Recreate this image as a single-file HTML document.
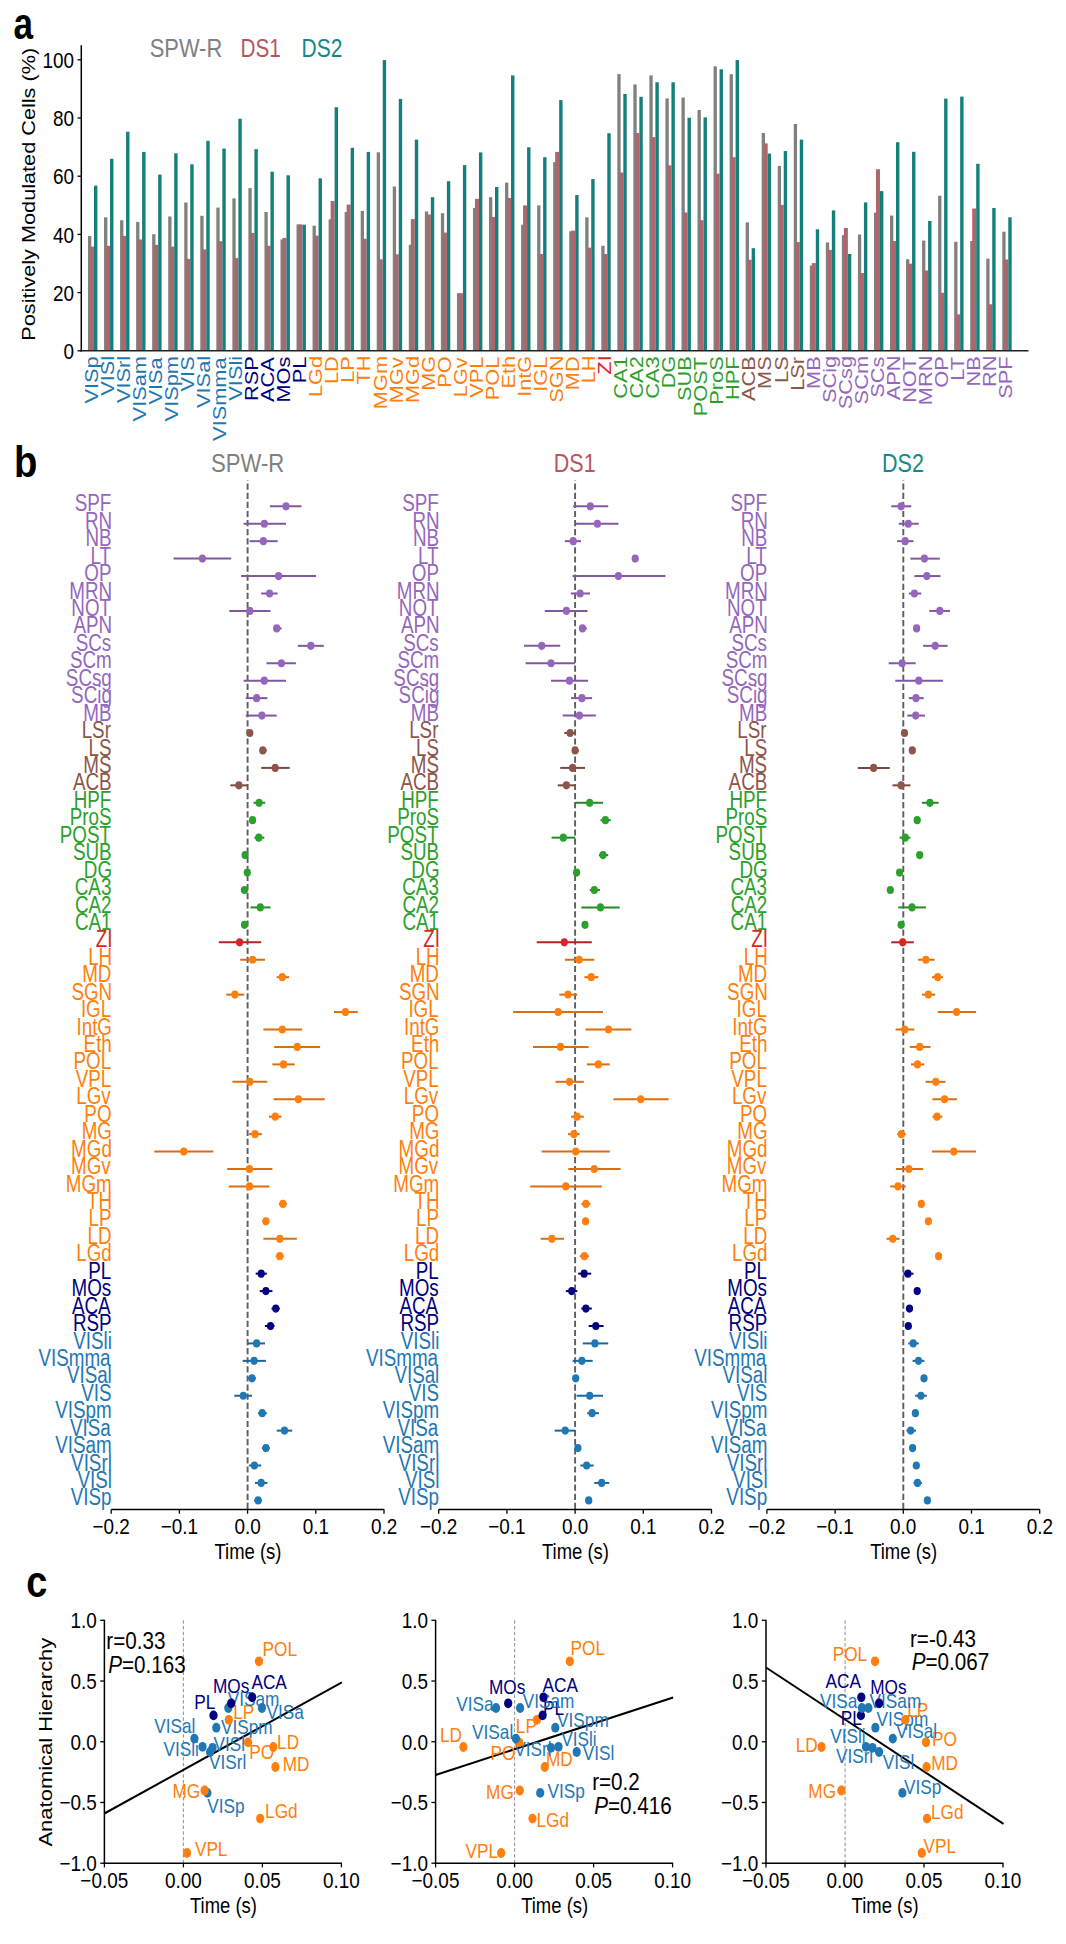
<!DOCTYPE html>
<html><head><meta charset="utf-8"><style>
html,body{margin:0;padding:0;background:#fff;}
svg{display:block;}
</style></head><body>
<svg width="1066" height="1944" viewBox="0 0 1066 1944" font-family="Liberation Sans, sans-serif">
<rect width="1066" height="1944" fill="#fff"/>
<rect x="88.00" y="235.90" width="3.30" height="114.90" fill="#827f7f"/>
<rect x="90.00" y="246.60" width="4.00" height="104.20" fill="#ad666c"/>
<rect x="94.00" y="185.70" width="3.40" height="165.10" fill="#14807c"/>
<rect x="104.04" y="217.30" width="3.30" height="133.50" fill="#827f7f"/>
<rect x="106.04" y="245.80" width="4.00" height="105.00" fill="#ad666c"/>
<rect x="110.04" y="158.80" width="3.40" height="192.00" fill="#14807c"/>
<rect x="120.08" y="220.20" width="3.30" height="130.60" fill="#827f7f"/>
<rect x="122.08" y="235.90" width="4.00" height="114.90" fill="#ad666c"/>
<rect x="126.08" y="131.70" width="3.40" height="219.10" fill="#14807c"/>
<rect x="136.12" y="221.90" width="3.30" height="128.90" fill="#827f7f"/>
<rect x="138.12" y="239.50" width="4.00" height="111.30" fill="#ad666c"/>
<rect x="142.12" y="151.90" width="3.40" height="198.90" fill="#14807c"/>
<rect x="152.16" y="234.20" width="3.30" height="116.60" fill="#827f7f"/>
<rect x="154.16" y="244.90" width="4.00" height="105.90" fill="#ad666c"/>
<rect x="158.16" y="174.60" width="3.40" height="176.20" fill="#14807c"/>
<rect x="168.20" y="216.50" width="3.30" height="134.30" fill="#827f7f"/>
<rect x="170.20" y="246.60" width="4.00" height="104.20" fill="#ad666c"/>
<rect x="174.20" y="153.30" width="3.40" height="197.50" fill="#14807c"/>
<rect x="184.24" y="202.50" width="3.30" height="148.30" fill="#827f7f"/>
<rect x="186.24" y="258.90" width="4.00" height="91.90" fill="#ad666c"/>
<rect x="190.24" y="164.30" width="3.40" height="186.50" fill="#14807c"/>
<rect x="200.28" y="215.80" width="3.30" height="135.00" fill="#827f7f"/>
<rect x="202.28" y="249.40" width="4.00" height="101.40" fill="#ad666c"/>
<rect x="206.28" y="140.90" width="3.40" height="209.90" fill="#14807c"/>
<rect x="216.32" y="207.60" width="3.30" height="143.20" fill="#827f7f"/>
<rect x="218.32" y="241.20" width="4.00" height="109.60" fill="#ad666c"/>
<rect x="222.32" y="148.60" width="3.40" height="202.20" fill="#14807c"/>
<rect x="232.36" y="198.40" width="3.30" height="152.40" fill="#827f7f"/>
<rect x="234.36" y="258.10" width="4.00" height="92.70" fill="#ad666c"/>
<rect x="238.36" y="118.70" width="3.40" height="232.10" fill="#14807c"/>
<rect x="248.40" y="188.10" width="3.30" height="162.70" fill="#827f7f"/>
<rect x="250.40" y="232.90" width="4.00" height="117.90" fill="#ad666c"/>
<rect x="254.40" y="149.10" width="3.40" height="201.70" fill="#14807c"/>
<rect x="264.44" y="212.00" width="3.30" height="138.80" fill="#827f7f"/>
<rect x="266.44" y="245.80" width="4.00" height="105.00" fill="#ad666c"/>
<rect x="270.44" y="171.70" width="3.40" height="179.10" fill="#14807c"/>
<rect x="280.48" y="239.50" width="3.30" height="111.30" fill="#827f7f"/>
<rect x="282.48" y="237.90" width="4.00" height="112.90" fill="#ad666c"/>
<rect x="286.48" y="175.30" width="3.40" height="175.50" fill="#14807c"/>
<rect x="296.52" y="224.40" width="3.30" height="126.40" fill="#827f7f"/>
<rect x="298.52" y="224.40" width="4.00" height="126.40" fill="#ad666c"/>
<rect x="302.52" y="224.70" width="3.40" height="126.10" fill="#14807c"/>
<rect x="312.56" y="225.70" width="3.30" height="125.10" fill="#827f7f"/>
<rect x="314.56" y="235.60" width="4.00" height="115.20" fill="#ad666c"/>
<rect x="318.56" y="178.30" width="3.40" height="172.50" fill="#14807c"/>
<rect x="328.60" y="219.40" width="3.30" height="131.40" fill="#827f7f"/>
<rect x="330.60" y="201.00" width="4.00" height="149.80" fill="#ad666c"/>
<rect x="334.60" y="107.20" width="3.40" height="243.60" fill="#14807c"/>
<rect x="344.64" y="212.00" width="3.30" height="138.80" fill="#827f7f"/>
<rect x="346.64" y="204.60" width="4.00" height="146.20" fill="#ad666c"/>
<rect x="350.64" y="147.80" width="3.40" height="203.00" fill="#14807c"/>
<rect x="360.68" y="210.90" width="3.30" height="139.90" fill="#827f7f"/>
<rect x="362.68" y="238.80" width="4.00" height="112.00" fill="#ad666c"/>
<rect x="366.68" y="151.90" width="3.40" height="198.90" fill="#14807c"/>
<rect x="376.72" y="152.30" width="3.30" height="198.50" fill="#827f7f"/>
<rect x="378.72" y="259.30" width="4.00" height="91.50" fill="#ad666c"/>
<rect x="382.72" y="60.10" width="3.40" height="290.70" fill="#14807c"/>
<rect x="392.76" y="186.50" width="3.30" height="164.30" fill="#827f7f"/>
<rect x="394.76" y="254.30" width="4.00" height="96.50" fill="#ad666c"/>
<rect x="398.76" y="98.90" width="3.40" height="251.90" fill="#14807c"/>
<rect x="408.80" y="244.90" width="3.30" height="105.90" fill="#827f7f"/>
<rect x="410.80" y="219.10" width="4.00" height="131.70" fill="#ad666c"/>
<rect x="414.80" y="139.60" width="3.40" height="211.20" fill="#14807c"/>
<rect x="424.84" y="211.50" width="3.30" height="139.30" fill="#827f7f"/>
<rect x="426.84" y="214.50" width="4.00" height="136.30" fill="#ad666c"/>
<rect x="430.84" y="197.20" width="3.40" height="153.60" fill="#14807c"/>
<rect x="440.88" y="213.20" width="3.30" height="137.60" fill="#827f7f"/>
<rect x="442.88" y="232.60" width="4.00" height="118.20" fill="#ad666c"/>
<rect x="446.88" y="181.20" width="3.40" height="169.60" fill="#14807c"/>
<rect x="456.92" y="293.20" width="3.30" height="57.60" fill="#827f7f"/>
<rect x="458.92" y="293.20" width="4.00" height="57.60" fill="#ad666c"/>
<rect x="462.92" y="165.10" width="3.40" height="185.70" fill="#14807c"/>
<rect x="472.96" y="207.90" width="3.30" height="142.90" fill="#827f7f"/>
<rect x="474.96" y="198.80" width="4.00" height="152.00" fill="#ad666c"/>
<rect x="478.96" y="152.40" width="3.40" height="198.40" fill="#14807c"/>
<rect x="489.00" y="197.20" width="3.30" height="153.60" fill="#827f7f"/>
<rect x="491.00" y="217.00" width="4.00" height="133.80" fill="#ad666c"/>
<rect x="495.00" y="187.00" width="3.40" height="163.80" fill="#14807c"/>
<rect x="505.04" y="182.60" width="3.30" height="168.20" fill="#827f7f"/>
<rect x="507.04" y="198.00" width="4.00" height="152.80" fill="#ad666c"/>
<rect x="511.04" y="75.40" width="3.40" height="275.40" fill="#14807c"/>
<rect x="521.08" y="224.70" width="3.30" height="126.10" fill="#827f7f"/>
<rect x="523.08" y="205.40" width="4.00" height="145.40" fill="#ad666c"/>
<rect x="527.08" y="147.30" width="3.40" height="203.50" fill="#14807c"/>
<rect x="537.12" y="205.40" width="3.30" height="145.40" fill="#827f7f"/>
<rect x="539.12" y="254.00" width="4.00" height="96.80" fill="#ad666c"/>
<rect x="543.12" y="157.20" width="3.40" height="193.60" fill="#14807c"/>
<rect x="553.16" y="162.10" width="3.30" height="188.70" fill="#827f7f"/>
<rect x="555.16" y="151.90" width="4.00" height="198.90" fill="#ad666c"/>
<rect x="559.16" y="100.10" width="3.40" height="250.70" fill="#14807c"/>
<rect x="569.20" y="231.30" width="3.30" height="119.50" fill="#827f7f"/>
<rect x="571.20" y="230.60" width="4.00" height="120.20" fill="#ad666c"/>
<rect x="575.20" y="195.10" width="3.40" height="155.70" fill="#14807c"/>
<rect x="585.24" y="217.30" width="3.30" height="133.50" fill="#827f7f"/>
<rect x="587.24" y="247.70" width="4.00" height="103.10" fill="#ad666c"/>
<rect x="591.24" y="179.10" width="3.40" height="171.70" fill="#14807c"/>
<rect x="601.28" y="245.80" width="3.30" height="105.00" fill="#827f7f"/>
<rect x="603.28" y="254.00" width="4.00" height="96.80" fill="#ad666c"/>
<rect x="607.28" y="133.20" width="3.40" height="217.60" fill="#14807c"/>
<rect x="617.32" y="74.10" width="3.30" height="276.70" fill="#827f7f"/>
<rect x="619.32" y="172.50" width="4.00" height="178.30" fill="#ad666c"/>
<rect x="623.32" y="94.00" width="3.40" height="256.80" fill="#14807c"/>
<rect x="633.36" y="84.40" width="3.30" height="266.40" fill="#827f7f"/>
<rect x="635.36" y="133.00" width="4.00" height="217.80" fill="#ad666c"/>
<rect x="639.36" y="96.80" width="3.40" height="254.00" fill="#14807c"/>
<rect x="649.40" y="75.40" width="3.30" height="275.40" fill="#827f7f"/>
<rect x="651.40" y="137.10" width="4.00" height="213.70" fill="#ad666c"/>
<rect x="655.40" y="82.30" width="3.40" height="268.50" fill="#14807c"/>
<rect x="665.44" y="98.40" width="3.30" height="252.40" fill="#827f7f"/>
<rect x="667.44" y="165.40" width="4.00" height="185.40" fill="#ad666c"/>
<rect x="671.44" y="82.30" width="3.40" height="268.50" fill="#14807c"/>
<rect x="681.48" y="97.60" width="3.30" height="253.20" fill="#827f7f"/>
<rect x="683.48" y="212.50" width="4.00" height="138.30" fill="#ad666c"/>
<rect x="687.48" y="117.70" width="3.40" height="233.10" fill="#14807c"/>
<rect x="697.52" y="110.00" width="3.30" height="240.80" fill="#827f7f"/>
<rect x="699.52" y="220.20" width="4.00" height="130.60" fill="#ad666c"/>
<rect x="703.52" y="117.40" width="3.40" height="233.40" fill="#14807c"/>
<rect x="713.56" y="66.30" width="3.30" height="284.50" fill="#827f7f"/>
<rect x="715.56" y="173.70" width="4.00" height="177.10" fill="#ad666c"/>
<rect x="719.56" y="69.30" width="3.40" height="281.50" fill="#14807c"/>
<rect x="729.60" y="74.20" width="3.30" height="276.60" fill="#827f7f"/>
<rect x="731.60" y="157.20" width="4.00" height="193.60" fill="#ad666c"/>
<rect x="735.60" y="60.10" width="3.40" height="290.70" fill="#14807c"/>
<rect x="745.64" y="222.40" width="3.30" height="128.40" fill="#827f7f"/>
<rect x="747.64" y="259.80" width="4.00" height="91.00" fill="#ad666c"/>
<rect x="751.64" y="248.20" width="3.40" height="102.60" fill="#14807c"/>
<rect x="761.68" y="133.00" width="3.30" height="217.80" fill="#827f7f"/>
<rect x="763.68" y="143.40" width="4.00" height="207.40" fill="#ad666c"/>
<rect x="767.68" y="153.60" width="3.40" height="197.20" fill="#14807c"/>
<rect x="777.72" y="165.90" width="3.30" height="184.90" fill="#827f7f"/>
<rect x="779.72" y="204.90" width="4.00" height="145.90" fill="#ad666c"/>
<rect x="783.72" y="151.10" width="3.40" height="199.70" fill="#14807c"/>
<rect x="793.76" y="124.00" width="3.30" height="226.80" fill="#827f7f"/>
<rect x="795.76" y="242.10" width="4.00" height="108.70" fill="#ad666c"/>
<rect x="799.76" y="139.60" width="3.40" height="211.20" fill="#14807c"/>
<rect x="809.80" y="265.50" width="3.30" height="85.30" fill="#827f7f"/>
<rect x="811.80" y="263.10" width="4.00" height="87.70" fill="#ad666c"/>
<rect x="815.80" y="229.30" width="3.40" height="121.50" fill="#14807c"/>
<rect x="825.84" y="242.50" width="3.30" height="108.30" fill="#827f7f"/>
<rect x="827.84" y="249.90" width="4.00" height="100.90" fill="#ad666c"/>
<rect x="831.84" y="210.40" width="3.40" height="140.40" fill="#14807c"/>
<rect x="841.88" y="235.10" width="3.30" height="115.70" fill="#827f7f"/>
<rect x="843.88" y="228.00" width="4.00" height="122.80" fill="#ad666c"/>
<rect x="847.88" y="254.00" width="3.40" height="96.80" fill="#14807c"/>
<rect x="857.92" y="234.50" width="3.30" height="116.30" fill="#827f7f"/>
<rect x="859.92" y="273.00" width="4.00" height="77.80" fill="#ad666c"/>
<rect x="863.92" y="202.40" width="3.40" height="148.40" fill="#14807c"/>
<rect x="873.96" y="212.60" width="3.30" height="138.20" fill="#827f7f"/>
<rect x="875.96" y="169.20" width="4.00" height="181.60" fill="#ad666c"/>
<rect x="879.96" y="191.10" width="3.40" height="159.70" fill="#14807c"/>
<rect x="890.00" y="215.60" width="3.30" height="135.20" fill="#827f7f"/>
<rect x="892.00" y="241.00" width="4.00" height="109.80" fill="#ad666c"/>
<rect x="896.00" y="142.20" width="3.40" height="208.60" fill="#14807c"/>
<rect x="906.04" y="259.20" width="3.30" height="91.60" fill="#827f7f"/>
<rect x="908.04" y="263.70" width="4.00" height="87.10" fill="#ad666c"/>
<rect x="912.04" y="151.80" width="3.40" height="199.00" fill="#14807c"/>
<rect x="922.08" y="240.60" width="3.30" height="110.20" fill="#827f7f"/>
<rect x="924.08" y="270.50" width="4.00" height="80.30" fill="#ad666c"/>
<rect x="928.08" y="221.00" width="3.40" height="129.80" fill="#14807c"/>
<rect x="938.12" y="195.70" width="3.30" height="155.10" fill="#827f7f"/>
<rect x="940.12" y="292.80" width="4.00" height="58.00" fill="#ad666c"/>
<rect x="944.12" y="98.60" width="3.40" height="252.20" fill="#14807c"/>
<rect x="954.16" y="241.80" width="3.30" height="109.00" fill="#827f7f"/>
<rect x="956.16" y="314.40" width="4.00" height="36.40" fill="#ad666c"/>
<rect x="960.16" y="96.60" width="3.40" height="254.20" fill="#14807c"/>
<rect x="970.20" y="241.00" width="3.30" height="109.80" fill="#827f7f"/>
<rect x="972.20" y="208.50" width="4.00" height="142.30" fill="#ad666c"/>
<rect x="976.20" y="163.80" width="3.40" height="187.00" fill="#14807c"/>
<rect x="986.24" y="258.70" width="3.30" height="92.10" fill="#827f7f"/>
<rect x="988.24" y="304.30" width="4.00" height="46.50" fill="#ad666c"/>
<rect x="992.24" y="208.00" width="3.40" height="142.80" fill="#14807c"/>
<rect x="1002.28" y="231.70" width="3.30" height="119.10" fill="#827f7f"/>
<rect x="1004.28" y="259.50" width="4.00" height="91.30" fill="#ad666c"/>
<rect x="1008.28" y="217.30" width="3.40" height="133.50" fill="#14807c"/>
<line x1="81.30" y1="45.20" x2="81.30" y2="351.55" stroke="#000" stroke-width="1.5"/>
<line x1="80.55" y1="350.80" x2="1028.50" y2="350.80" stroke="#222" stroke-width="1.6"/>
<line x1="77.50" y1="350.80" x2="81.30" y2="350.80" stroke="#000" stroke-width="1.3"/>
<text transform="translate(63.46,358.90) scale(0.86,1)" font-size="22" fill="#000">0</text>
<line x1="77.50" y1="292.60" x2="81.30" y2="292.60" stroke="#000" stroke-width="1.3"/>
<text transform="translate(52.96,300.70) scale(0.86,1)" font-size="22" fill="#000">20</text>
<line x1="77.50" y1="234.40" x2="81.30" y2="234.40" stroke="#000" stroke-width="1.3"/>
<text transform="translate(52.96,242.50) scale(0.86,1)" font-size="22" fill="#000">40</text>
<line x1="77.50" y1="176.20" x2="81.30" y2="176.20" stroke="#000" stroke-width="1.3"/>
<text transform="translate(52.96,184.30) scale(0.86,1)" font-size="22" fill="#000">60</text>
<line x1="77.50" y1="118.00" x2="81.30" y2="118.00" stroke="#000" stroke-width="1.3"/>
<text transform="translate(52.96,126.10) scale(0.86,1)" font-size="22" fill="#000">80</text>
<line x1="77.50" y1="59.80" x2="81.30" y2="59.80" stroke="#000" stroke-width="1.3"/>
<text transform="translate(42.46,67.90) scale(0.86,1)" font-size="22" fill="#000">100</text>
<text transform="translate(149.72,57.00) scale(0.875,1)" font-size="25" fill="#808080">SPW-R</text>
<text transform="translate(240.54,57.00) scale(0.83,1)" font-size="25" fill="#b85560">DS1</text>
<text transform="translate(301.52,57.00) scale(0.84,1)" font-size="25" fill="#138a86">DS2</text>
<text transform="translate(34.80,340.69) scale(0.87,1) rotate(-90)" font-size="21.7" fill="#000">Positively Modulated Cells (%)</text>
<text transform="translate(97.80,403.62) scale(0.85,1) rotate(-90)" font-size="21.8" fill="#1f77b4">VISp</text>
<text transform="translate(113.84,395.78) scale(0.85,1) rotate(-90)" font-size="21.8" fill="#1f77b4">VISl</text>
<text transform="translate(129.88,403.08) scale(0.85,1) rotate(-90)" font-size="21.8" fill="#1f77b4">VISrl</text>
<text transform="translate(145.92,421.39) scale(0.85,1) rotate(-90)" font-size="21.8" fill="#1f77b4">VISam</text>
<text transform="translate(161.96,404.50) scale(0.85,1) rotate(-90)" font-size="21.8" fill="#1f77b4">VISa</text>
<text transform="translate(178.00,421.39) scale(0.85,1) rotate(-90)" font-size="21.8" fill="#1f77b4">VISpm</text>
<text transform="translate(194.04,391.42) scale(0.85,1) rotate(-90)" font-size="21.8" fill="#1f77b4">VIS</text>
<text transform="translate(210.08,407.99) scale(0.85,1) rotate(-90)" font-size="21.8" fill="#1f77b4">VISal</text>
<text transform="translate(226.12,440.90) scale(0.85,1) rotate(-90)" font-size="21.8" fill="#1f77b4">VISmma</text>
<text transform="translate(242.16,400.68) scale(0.85,1) rotate(-90)" font-size="21.8" fill="#1f77b4">VISli</text>
<text transform="translate(258.20,401.01) scale(0.85,1) rotate(-90)" font-size="21.8" fill="#000080">RSP</text>
<text transform="translate(274.24,402.10) scale(0.85,1) rotate(-90)" font-size="21.8" fill="#000080">ACA</text>
<text transform="translate(290.28,402.54) scale(0.85,1) rotate(-90)" font-size="21.8" fill="#000080">MOs</text>
<text transform="translate(306.32,383.24) scale(0.85,1) rotate(-90)" font-size="21.8" fill="#000080">PL</text>
<text transform="translate(322.36,397.09) scale(0.85,1) rotate(-90)" font-size="21.8" fill="#ff7f0e">LGd</text>
<text transform="translate(338.40,384.11) scale(0.85,1) rotate(-90)" font-size="21.8" fill="#ff7f0e">LD</text>
<text transform="translate(354.44,382.81) scale(0.85,1) rotate(-90)" font-size="21.8" fill="#ff7f0e">LP</text>
<text transform="translate(370.48,384.55) scale(0.85,1) rotate(-90)" font-size="21.8" fill="#ff7f0e">TH</text>
<text transform="translate(386.52,409.18) scale(0.85,1) rotate(-90)" font-size="21.8" fill="#ff7f0e">MGm</text>
<text transform="translate(402.56,403.19) scale(0.85,1) rotate(-90)" font-size="21.8" fill="#ff7f0e">MGv</text>
<text transform="translate(418.60,403.08) scale(0.85,1) rotate(-90)" font-size="21.8" fill="#ff7f0e">MGd</text>
<text transform="translate(434.64,390.87) scale(0.85,1) rotate(-90)" font-size="21.8" fill="#ff7f0e">MG</text>
<text transform="translate(450.68,387.71) scale(0.85,1) rotate(-90)" font-size="21.8" fill="#ff7f0e">PO</text>
<text transform="translate(466.72,397.19) scale(0.85,1) rotate(-90)" font-size="21.8" fill="#ff7f0e">LGv</text>
<text transform="translate(482.76,397.85) scale(0.85,1) rotate(-90)" font-size="21.8" fill="#ff7f0e">VPL</text>
<text transform="translate(498.80,400.25) scale(0.85,1) rotate(-90)" font-size="21.8" fill="#ff7f0e">POL</text>
<text transform="translate(514.84,388.58) scale(0.85,1) rotate(-90)" font-size="21.8" fill="#ff7f0e">Eth</text>
<text transform="translate(530.88,396.87) scale(0.85,1) rotate(-90)" font-size="21.8" fill="#ff7f0e">IntG</text>
<text transform="translate(546.92,391.74) scale(0.85,1) rotate(-90)" font-size="21.8" fill="#ff7f0e">IGL</text>
<text transform="translate(562.96,402.75) scale(0.85,1) rotate(-90)" font-size="21.8" fill="#ff7f0e">SGN</text>
<text transform="translate(579.00,390.22) scale(0.85,1) rotate(-90)" font-size="21.8" fill="#ff7f0e">MD</text>
<text transform="translate(595.04,383.35) scale(0.85,1) rotate(-90)" font-size="21.8" fill="#ff7f0e">LH</text>
<text transform="translate(611.08,374.63) scale(0.85,1) rotate(-90)" font-size="21.8" fill="#d62728">ZI</text>
<text transform="translate(627.12,398.72) scale(0.85,1) rotate(-90)" font-size="21.8" fill="#2ca02c">CA1</text>
<text transform="translate(643.16,398.61) scale(0.85,1) rotate(-90)" font-size="21.8" fill="#2ca02c">CA2</text>
<text transform="translate(659.20,398.83) scale(0.85,1) rotate(-90)" font-size="21.8" fill="#2ca02c">CA3</text>
<text transform="translate(675.24,388.37) scale(0.85,1) rotate(-90)" font-size="21.8" fill="#2ca02c">DG</text>
<text transform="translate(691.28,401.01) scale(0.85,1) rotate(-90)" font-size="21.8" fill="#2ca02c">SUB</text>
<text transform="translate(707.32,416.16) scale(0.85,1) rotate(-90)" font-size="21.8" fill="#2ca02c">POST</text>
<text transform="translate(723.36,404.72) scale(0.85,1) rotate(-90)" font-size="21.8" fill="#2ca02c">ProS</text>
<text transform="translate(739.40,400.03) scale(0.85,1) rotate(-90)" font-size="21.8" fill="#2ca02c">HPF</text>
<text transform="translate(755.44,401.01) scale(0.85,1) rotate(-90)" font-size="21.8" fill="#8c564b">ACB</text>
<text transform="translate(771.48,389.02) scale(0.85,1) rotate(-90)" font-size="21.8" fill="#8c564b">MS</text>
<text transform="translate(787.52,382.92) scale(0.85,1) rotate(-90)" font-size="21.8" fill="#8c564b">LS</text>
<text transform="translate(803.56,390.87) scale(0.85,1) rotate(-90)" font-size="21.8" fill="#8c564b">LSr</text>
<text transform="translate(819.60,388.91) scale(0.85,1) rotate(-90)" font-size="21.8" fill="#9467bd">MB</text>
<text transform="translate(835.64,403.08) scale(0.85,1) rotate(-90)" font-size="21.8" fill="#9467bd">SCig</text>
<text transform="translate(851.68,409.18) scale(0.85,1) rotate(-90)" font-size="21.8" fill="#9467bd">SCsg</text>
<text transform="translate(867.72,404.39) scale(0.85,1) rotate(-90)" font-size="21.8" fill="#9467bd">SCm</text>
<text transform="translate(883.76,397.74) scale(0.85,1) rotate(-90)" font-size="21.8" fill="#9467bd">SCs</text>
<text transform="translate(899.80,400.36) scale(0.85,1) rotate(-90)" font-size="21.8" fill="#9467bd">APN</text>
<text transform="translate(915.84,402.86) scale(0.85,1) rotate(-90)" font-size="21.8" fill="#9467bd">NOT</text>
<text transform="translate(931.88,405.15) scale(0.85,1) rotate(-90)" font-size="21.8" fill="#9467bd">MRN</text>
<text transform="translate(947.92,387.71) scale(0.85,1) rotate(-90)" font-size="21.8" fill="#9467bd">OP</text>
<text transform="translate(963.96,380.63) scale(0.85,1) rotate(-90)" font-size="21.8" fill="#9467bd">LT</text>
<text transform="translate(980.00,386.40) scale(0.85,1) rotate(-90)" font-size="21.8" fill="#9467bd">NB</text>
<text transform="translate(996.04,386.95) scale(0.85,1) rotate(-90)" font-size="21.8" fill="#9467bd">RN</text>
<text transform="translate(1012.08,398.83) scale(0.85,1) rotate(-90)" font-size="21.8" fill="#9467bd">SPF</text>
<text transform="translate(13.55,38.60) scale(0.78,1)" font-size="45" fill="#000" font-weight="700">a</text>
<line x1="247.60" y1="480.20" x2="247.60" y2="1509.50" stroke="#5e5e5e" stroke-width="1.9" stroke-dasharray="6.2 2.9" stroke-dashoffset="5.7"/>
<line x1="111.20" y1="1509.50" x2="384.20" y2="1509.50" stroke="#000" stroke-width="1.5"/>
<line x1="111.20" y1="1509.50" x2="111.20" y2="1513.70" stroke="#000" stroke-width="1.3"/>
<text transform="translate(92.52,1534.10) scale(0.86,1)" font-size="22" fill="#000">−0.2</text>
<line x1="179.40" y1="1509.50" x2="179.40" y2="1513.70" stroke="#000" stroke-width="1.3"/>
<text transform="translate(160.67,1534.10) scale(0.86,1)" font-size="22" fill="#000">−0.1</text>
<line x1="247.60" y1="1509.50" x2="247.60" y2="1513.70" stroke="#000" stroke-width="1.3"/>
<text transform="translate(234.40,1534.10) scale(0.86,1)" font-size="22" fill="#000">0.0</text>
<line x1="315.80" y1="1509.50" x2="315.80" y2="1513.70" stroke="#000" stroke-width="1.3"/>
<text transform="translate(302.70,1534.10) scale(0.86,1)" font-size="22" fill="#000">0.1</text>
<line x1="384.00" y1="1509.50" x2="384.00" y2="1513.70" stroke="#000" stroke-width="1.3"/>
<text transform="translate(370.95,1534.10) scale(0.86,1)" font-size="22" fill="#000">0.2</text>
<text transform="translate(214.47,1558.80) scale(0.84,1)" font-size="22" fill="#000">Time (s)</text>
<text transform="translate(210.93,472.30) scale(0.885,1)" font-size="25" fill="#808080">SPW-R</text>
<line x1="269.90" y1="506.30" x2="301.50" y2="506.30" stroke="#7f58a2" stroke-width="2.0"/>
<ellipse cx="286.00" cy="506.30" rx="3.60" ry="4.10" fill="#9467bd"/>
<text transform="translate(74.79,511.40) scale(0.8,1)" font-size="23.5" fill="#9467bd">SPF</text>
<line x1="243.60" y1="523.74" x2="286.00" y2="523.74" stroke="#7f58a2" stroke-width="2.0"/>
<ellipse cx="264.30" cy="523.74" rx="3.60" ry="4.10" fill="#9467bd"/>
<text transform="translate(85.03,528.84) scale(0.8,1)" font-size="23.5" fill="#9467bd">RN</text>
<line x1="249.50" y1="541.18" x2="277.60" y2="541.18" stroke="#7f58a2" stroke-width="2.0"/>
<ellipse cx="263.40" cy="541.18" rx="3.60" ry="4.10" fill="#9467bd"/>
<text transform="translate(85.50,546.28) scale(0.8,1)" font-size="23.5" fill="#9467bd">NB</text>
<line x1="173.60" y1="558.62" x2="231.20" y2="558.62" stroke="#7f58a2" stroke-width="2.0"/>
<ellipse cx="202.40" cy="558.62" rx="3.60" ry="4.10" fill="#9467bd"/>
<text transform="translate(90.48,563.72) scale(0.8,1)" font-size="23.5" fill="#9467bd">LT</text>
<line x1="241.10" y1="576.06" x2="316.00" y2="576.06" stroke="#7f58a2" stroke-width="2.0"/>
<ellipse cx="278.60" cy="576.06" rx="3.60" ry="4.10" fill="#9467bd"/>
<text transform="translate(84.37,581.16) scale(0.8,1)" font-size="23.5" fill="#9467bd">OP</text>
<line x1="261.20" y1="593.50" x2="277.60" y2="593.50" stroke="#7f58a2" stroke-width="2.0"/>
<ellipse cx="269.60" cy="593.50" rx="3.60" ry="4.10" fill="#9467bd"/>
<text transform="translate(69.33,598.60) scale(0.8,1)" font-size="23.5" fill="#9467bd">MRN</text>
<line x1="229.30" y1="610.94" x2="270.50" y2="610.94" stroke="#7f58a2" stroke-width="2.0"/>
<ellipse cx="249.80" cy="610.94" rx="3.60" ry="4.10" fill="#9467bd"/>
<text transform="translate(71.31,616.04) scale(0.8,1)" font-size="23.5" fill="#9467bd">NOT</text>
<line x1="273.60" y1="628.38" x2="281.70" y2="628.38" stroke="#7f58a2" stroke-width="2.0"/>
<ellipse cx="276.70" cy="628.38" rx="3.60" ry="4.10" fill="#9467bd"/>
<text transform="translate(73.47,633.48) scale(0.8,1)" font-size="23.5" fill="#9467bd">APN</text>
<line x1="297.80" y1="645.82" x2="323.80" y2="645.82" stroke="#7f58a2" stroke-width="2.0"/>
<ellipse cx="310.80" cy="645.82" rx="3.60" ry="4.10" fill="#9467bd"/>
<text transform="translate(75.73,650.92) scale(0.8,1)" font-size="23.5" fill="#9467bd">SCs</text>
<line x1="266.50" y1="663.26" x2="295.90" y2="663.26" stroke="#7f58a2" stroke-width="2.0"/>
<ellipse cx="281.40" cy="663.26" rx="3.60" ry="4.10" fill="#9467bd"/>
<text transform="translate(69.99,668.36) scale(0.8,1)" font-size="23.5" fill="#9467bd">SCm</text>
<line x1="243.60" y1="680.70" x2="286.00" y2="680.70" stroke="#7f58a2" stroke-width="2.0"/>
<ellipse cx="264.30" cy="680.70" rx="3.60" ry="4.10" fill="#9467bd"/>
<text transform="translate(65.86,685.80) scale(0.8,1)" font-size="23.5" fill="#9467bd">SCsg</text>
<line x1="245.80" y1="698.14" x2="267.40" y2="698.14" stroke="#7f58a2" stroke-width="2.0"/>
<ellipse cx="256.60" cy="698.14" rx="3.60" ry="4.10" fill="#9467bd"/>
<text transform="translate(71.12,703.24) scale(0.8,1)" font-size="23.5" fill="#9467bd">SCig</text>
<line x1="245.80" y1="715.58" x2="276.70" y2="715.58" stroke="#7f58a2" stroke-width="2.0"/>
<ellipse cx="261.90" cy="715.58" rx="3.60" ry="4.10" fill="#9467bd"/>
<text transform="translate(83.34,720.68) scale(0.8,1)" font-size="23.5" fill="#9467bd">MB</text>
<line x1="247.10" y1="733.02" x2="252.60" y2="733.02" stroke="#784940" stroke-width="2.0"/>
<ellipse cx="249.80" cy="733.02" rx="3.60" ry="4.10" fill="#8c564b"/>
<text transform="translate(81.65,738.12) scale(0.8,1)" font-size="23.5" fill="#8c564b">LSr</text>
<line x1="259.70" y1="750.46" x2="266.80" y2="750.46" stroke="#784940" stroke-width="2.0"/>
<ellipse cx="262.80" cy="750.46" rx="3.60" ry="4.10" fill="#8c564b"/>
<text transform="translate(88.51,755.56) scale(0.8,1)" font-size="23.5" fill="#8c564b">LS</text>
<line x1="261.20" y1="767.90" x2="289.70" y2="767.90" stroke="#784940" stroke-width="2.0"/>
<ellipse cx="275.20" cy="767.90" rx="3.60" ry="4.10" fill="#8c564b"/>
<text transform="translate(83.25,773.00) scale(0.8,1)" font-size="23.5" fill="#8c564b">MS</text>
<line x1="230.30" y1="785.34" x2="247.30" y2="785.34" stroke="#784940" stroke-width="2.0"/>
<ellipse cx="238.90" cy="785.34" rx="3.60" ry="4.10" fill="#8c564b"/>
<text transform="translate(72.91,790.44) scale(0.8,1)" font-size="23.5" fill="#8c564b">ACB</text>
<line x1="253.50" y1="802.78" x2="265.30" y2="802.78" stroke="#258925" stroke-width="2.0"/>
<ellipse cx="259.10" cy="802.78" rx="3.60" ry="4.10" fill="#2ca02c"/>
<text transform="translate(73.75,807.88) scale(0.8,1)" font-size="23.5" fill="#2ca02c">HPF</text>
<line x1="250.10" y1="820.22" x2="255.10" y2="820.22" stroke="#258925" stroke-width="2.0"/>
<ellipse cx="252.60" cy="820.22" rx="3.60" ry="4.10" fill="#2ca02c"/>
<text transform="translate(69.71,825.32) scale(0.8,1)" font-size="23.5" fill="#2ca02c">ProS</text>
<line x1="254.40" y1="837.66" x2="264.30" y2="837.66" stroke="#258925" stroke-width="2.0"/>
<ellipse cx="258.80" cy="837.66" rx="3.60" ry="4.10" fill="#2ca02c"/>
<text transform="translate(59.84,842.76) scale(0.8,1)" font-size="23.5" fill="#2ca02c">POST</text>
<line x1="243.10" y1="855.10" x2="247.10" y2="855.10" stroke="#258925" stroke-width="2.0"/>
<ellipse cx="245.10" cy="855.10" rx="3.60" ry="4.10" fill="#2ca02c"/>
<text transform="translate(72.91,860.20) scale(0.8,1)" font-size="23.5" fill="#2ca02c">SUB</text>
<line x1="245.30" y1="872.54" x2="249.30" y2="872.54" stroke="#258925" stroke-width="2.0"/>
<ellipse cx="247.30" cy="872.54" rx="3.60" ry="4.10" fill="#2ca02c"/>
<text transform="translate(83.81,877.64) scale(0.8,1)" font-size="23.5" fill="#2ca02c">DG</text>
<line x1="241.10" y1="889.98" x2="247.90" y2="889.98" stroke="#258925" stroke-width="2.0"/>
<ellipse cx="244.50" cy="889.98" rx="3.60" ry="4.10" fill="#2ca02c"/>
<text transform="translate(74.79,895.08) scale(0.8,1)" font-size="23.5" fill="#2ca02c">CA3</text>
<line x1="250.40" y1="907.42" x2="270.50" y2="907.42" stroke="#258925" stroke-width="2.0"/>
<ellipse cx="260.30" cy="907.42" rx="3.60" ry="4.10" fill="#2ca02c"/>
<text transform="translate(74.97,912.52) scale(0.8,1)" font-size="23.5" fill="#2ca02c">CA2</text>
<line x1="242.50" y1="924.86" x2="246.50" y2="924.86" stroke="#258925" stroke-width="2.0"/>
<ellipse cx="244.50" cy="924.86" rx="3.60" ry="4.10" fill="#2ca02c"/>
<text transform="translate(74.88,929.96) scale(0.8,1)" font-size="23.5" fill="#2ca02c">CA1</text>
<line x1="218.80" y1="942.30" x2="261.20" y2="942.30" stroke="#b82122" stroke-width="2.0"/>
<ellipse cx="239.60" cy="942.30" rx="3.60" ry="4.10" fill="#d62728"/>
<text transform="translate(95.65,947.40) scale(0.8,1)" font-size="23.5" fill="#d62728">ZI</text>
<line x1="240.20" y1="959.74" x2="265.00" y2="959.74" stroke="#db6d0c" stroke-width="2.0"/>
<ellipse cx="252.60" cy="959.74" rx="3.60" ry="4.10" fill="#ff7f0e"/>
<text transform="translate(88.13,964.84) scale(0.8,1)" font-size="23.5" fill="#ff7f0e">LH</text>
<line x1="276.70" y1="977.18" x2="289.10" y2="977.18" stroke="#db6d0c" stroke-width="2.0"/>
<ellipse cx="282.30" cy="977.18" rx="3.60" ry="4.10" fill="#ff7f0e"/>
<text transform="translate(82.21,982.28) scale(0.8,1)" font-size="23.5" fill="#ff7f0e">MD</text>
<line x1="226.30" y1="994.62" x2="244.20" y2="994.62" stroke="#db6d0c" stroke-width="2.0"/>
<ellipse cx="234.90" cy="994.62" rx="3.60" ry="4.10" fill="#ff7f0e"/>
<text transform="translate(71.40,999.72) scale(0.8,1)" font-size="23.5" fill="#ff7f0e">SGN</text>
<line x1="334.00" y1="1012.06" x2="357.80" y2="1012.06" stroke="#db6d0c" stroke-width="2.0"/>
<ellipse cx="345.40" cy="1012.06" rx="3.60" ry="4.10" fill="#ff7f0e"/>
<text transform="translate(80.90,1017.16) scale(0.8,1)" font-size="23.5" fill="#ff7f0e">IGL</text>
<line x1="263.40" y1="1029.50" x2="302.10" y2="1029.50" stroke="#db6d0c" stroke-width="2.0"/>
<ellipse cx="282.30" cy="1029.50" rx="3.60" ry="4.10" fill="#ff7f0e"/>
<text transform="translate(76.48,1034.60) scale(0.8,1)" font-size="23.5" fill="#ff7f0e">IntG</text>
<line x1="274.20" y1="1046.94" x2="320.10" y2="1046.94" stroke="#db6d0c" stroke-width="2.0"/>
<ellipse cx="297.20" cy="1046.94" rx="3.60" ry="4.10" fill="#ff7f0e"/>
<text transform="translate(83.62,1052.04) scale(0.8,1)" font-size="23.5" fill="#ff7f0e">Eth</text>
<line x1="272.40" y1="1064.38" x2="294.70" y2="1064.38" stroke="#db6d0c" stroke-width="2.0"/>
<ellipse cx="283.50" cy="1064.38" rx="3.60" ry="4.10" fill="#ff7f0e"/>
<text transform="translate(73.56,1069.48) scale(0.8,1)" font-size="23.5" fill="#ff7f0e">POL</text>
<line x1="232.40" y1="1081.82" x2="267.40" y2="1081.82" stroke="#db6d0c" stroke-width="2.0"/>
<ellipse cx="249.80" cy="1081.82" rx="3.60" ry="4.10" fill="#ff7f0e"/>
<text transform="translate(75.63,1086.92) scale(0.8,1)" font-size="23.5" fill="#ff7f0e">VPL</text>
<line x1="273.60" y1="1099.26" x2="324.70" y2="1099.26" stroke="#db6d0c" stroke-width="2.0"/>
<ellipse cx="298.40" cy="1099.26" rx="3.60" ry="4.10" fill="#ff7f0e"/>
<text transform="translate(76.20,1104.36) scale(0.8,1)" font-size="23.5" fill="#ff7f0e">LGv</text>
<line x1="269.00" y1="1116.70" x2="281.40" y2="1116.70" stroke="#db6d0c" stroke-width="2.0"/>
<ellipse cx="275.20" cy="1116.70" rx="3.60" ry="4.10" fill="#ff7f0e"/>
<text transform="translate(84.37,1121.80) scale(0.8,1)" font-size="23.5" fill="#ff7f0e">PO</text>
<line x1="248.90" y1="1134.14" x2="261.90" y2="1134.14" stroke="#db6d0c" stroke-width="2.0"/>
<ellipse cx="255.00" cy="1134.14" rx="3.60" ry="4.10" fill="#ff7f0e"/>
<text transform="translate(81.65,1139.24) scale(0.8,1)" font-size="23.5" fill="#ff7f0e">MG</text>
<line x1="154.40" y1="1151.58" x2="213.30" y2="1151.58" stroke="#db6d0c" stroke-width="2.0"/>
<ellipse cx="183.80" cy="1151.58" rx="3.60" ry="4.10" fill="#ff7f0e"/>
<text transform="translate(71.12,1156.68) scale(0.8,1)" font-size="23.5" fill="#ff7f0e">MGd</text>
<line x1="227.20" y1="1169.02" x2="272.40" y2="1169.02" stroke="#db6d0c" stroke-width="2.0"/>
<ellipse cx="249.50" cy="1169.02" rx="3.60" ry="4.10" fill="#ff7f0e"/>
<text transform="translate(71.03,1174.12) scale(0.8,1)" font-size="23.5" fill="#ff7f0e">MGv</text>
<line x1="228.70" y1="1186.46" x2="269.30" y2="1186.46" stroke="#db6d0c" stroke-width="2.0"/>
<ellipse cx="249.50" cy="1186.46" rx="3.60" ry="4.10" fill="#ff7f0e"/>
<text transform="translate(65.86,1191.56) scale(0.8,1)" font-size="23.5" fill="#ff7f0e">MGm</text>
<line x1="278.90" y1="1203.90" x2="286.90" y2="1203.90" stroke="#db6d0c" stroke-width="2.0"/>
<ellipse cx="282.90" cy="1203.90" rx="3.60" ry="4.10" fill="#ff7f0e"/>
<text transform="translate(87.10,1209.00) scale(0.8,1)" font-size="23.5" fill="#ff7f0e">TH</text>
<line x1="262.60" y1="1221.34" x2="269.20" y2="1221.34" stroke="#db6d0c" stroke-width="2.0"/>
<ellipse cx="265.90" cy="1221.34" rx="3.60" ry="4.10" fill="#ff7f0e"/>
<text transform="translate(88.60,1226.44) scale(0.8,1)" font-size="23.5" fill="#ff7f0e">LP</text>
<line x1="263.40" y1="1238.78" x2="296.80" y2="1238.78" stroke="#db6d0c" stroke-width="2.0"/>
<ellipse cx="279.80" cy="1238.78" rx="3.60" ry="4.10" fill="#ff7f0e"/>
<text transform="translate(87.48,1243.88) scale(0.8,1)" font-size="23.5" fill="#ff7f0e">LD</text>
<line x1="275.80" y1="1256.22" x2="283.80" y2="1256.22" stroke="#db6d0c" stroke-width="2.0"/>
<ellipse cx="279.80" cy="1256.22" rx="3.60" ry="4.10" fill="#ff7f0e"/>
<text transform="translate(76.29,1261.32) scale(0.8,1)" font-size="23.5" fill="#ff7f0e">LGd</text>
<line x1="255.70" y1="1273.66" x2="266.80" y2="1273.66" stroke="#00006e" stroke-width="2.0"/>
<ellipse cx="261.20" cy="1273.66" rx="3.60" ry="4.10" fill="#000080"/>
<text transform="translate(88.23,1278.76) scale(0.8,1)" font-size="23.5" fill="#000080">PL</text>
<line x1="259.70" y1="1291.10" x2="272.40" y2="1291.10" stroke="#00006e" stroke-width="2.0"/>
<ellipse cx="265.90" cy="1291.10" rx="3.60" ry="4.10" fill="#000080"/>
<text transform="translate(71.59,1296.20) scale(0.8,1)" font-size="23.5" fill="#000080">MOs</text>
<line x1="271.50" y1="1308.54" x2="279.80" y2="1308.54" stroke="#00006e" stroke-width="2.0"/>
<ellipse cx="275.80" cy="1308.54" rx="3.60" ry="4.10" fill="#000080"/>
<text transform="translate(71.97,1313.64) scale(0.8,1)" font-size="23.5" fill="#000080">ACA</text>
<line x1="265.00" y1="1325.98" x2="274.50" y2="1325.98" stroke="#00006e" stroke-width="2.0"/>
<ellipse cx="270.50" cy="1325.98" rx="3.60" ry="4.10" fill="#000080"/>
<text transform="translate(72.91,1331.08) scale(0.8,1)" font-size="23.5" fill="#000080">RSP</text>
<line x1="247.90" y1="1343.42" x2="265.00" y2="1343.42" stroke="#1a669a" stroke-width="2.0"/>
<ellipse cx="256.60" cy="1343.42" rx="3.60" ry="4.10" fill="#1f77b4"/>
<text transform="translate(73.19,1348.52) scale(0.8,1)" font-size="23.5" fill="#1f77b4">VISli</text>
<line x1="242.70" y1="1360.86" x2="265.90" y2="1360.86" stroke="#1a669a" stroke-width="2.0"/>
<ellipse cx="254.10" cy="1360.86" rx="3.60" ry="4.10" fill="#1f77b4"/>
<text transform="translate(38.50,1365.96) scale(0.8,1)" font-size="23.5" fill="#1f77b4">VISmma</text>
<line x1="247.90" y1="1378.30" x2="256.00" y2="1378.30" stroke="#1a669a" stroke-width="2.0"/>
<ellipse cx="252.00" cy="1378.30" rx="3.60" ry="4.10" fill="#1f77b4"/>
<text transform="translate(66.89,1383.40) scale(0.8,1)" font-size="23.5" fill="#1f77b4">VISal</text>
<line x1="234.30" y1="1395.74" x2="252.00" y2="1395.74" stroke="#1a669a" stroke-width="2.0"/>
<ellipse cx="243.30" cy="1395.74" rx="3.60" ry="4.10" fill="#1f77b4"/>
<text transform="translate(81.18,1400.84) scale(0.8,1)" font-size="23.5" fill="#1f77b4">VIS</text>
<line x1="258.10" y1="1413.18" x2="266.80" y2="1413.18" stroke="#1a669a" stroke-width="2.0"/>
<ellipse cx="262.20" cy="1413.18" rx="3.60" ry="4.10" fill="#1f77b4"/>
<text transform="translate(55.33,1418.28) scale(0.8,1)" font-size="23.5" fill="#1f77b4">VISpm</text>
<line x1="276.70" y1="1430.62" x2="292.20" y2="1430.62" stroke="#1a669a" stroke-width="2.0"/>
<ellipse cx="284.50" cy="1430.62" rx="3.60" ry="4.10" fill="#1f77b4"/>
<text transform="translate(69.90,1435.72) scale(0.8,1)" font-size="23.5" fill="#1f77b4">VISa</text>
<line x1="261.90" y1="1448.06" x2="269.90" y2="1448.06" stroke="#1a669a" stroke-width="2.0"/>
<ellipse cx="265.90" cy="1448.06" rx="3.60" ry="4.10" fill="#1f77b4"/>
<text transform="translate(55.33,1453.16) scale(0.8,1)" font-size="23.5" fill="#1f77b4">VISam</text>
<line x1="248.90" y1="1465.50" x2="261.20" y2="1465.50" stroke="#1a669a" stroke-width="2.0"/>
<ellipse cx="254.40" cy="1465.50" rx="3.60" ry="4.10" fill="#1f77b4"/>
<text transform="translate(71.12,1470.60) scale(0.8,1)" font-size="23.5" fill="#1f77b4">VISrl</text>
<line x1="255.00" y1="1482.94" x2="267.40" y2="1482.94" stroke="#1a669a" stroke-width="2.0"/>
<ellipse cx="261.20" cy="1482.94" rx="3.60" ry="4.10" fill="#1f77b4"/>
<text transform="translate(77.42,1488.04) scale(0.8,1)" font-size="23.5" fill="#1f77b4">VISl</text>
<line x1="254.10" y1="1500.38" x2="262.10" y2="1500.38" stroke="#1a669a" stroke-width="2.0"/>
<ellipse cx="258.10" cy="1500.38" rx="3.60" ry="4.10" fill="#1f77b4"/>
<text transform="translate(70.65,1505.48) scale(0.8,1)" font-size="23.5" fill="#1f77b4">VISp</text>
<line x1="575.10" y1="480.20" x2="575.10" y2="1509.50" stroke="#5e5e5e" stroke-width="1.9" stroke-dasharray="6.2 2.9" stroke-dashoffset="5.7"/>
<line x1="438.70" y1="1509.50" x2="711.70" y2="1509.50" stroke="#000" stroke-width="1.5"/>
<line x1="438.70" y1="1509.50" x2="438.70" y2="1513.70" stroke="#000" stroke-width="1.3"/>
<text transform="translate(420.02,1534.10) scale(0.86,1)" font-size="22" fill="#000">−0.2</text>
<line x1="506.90" y1="1509.50" x2="506.90" y2="1513.70" stroke="#000" stroke-width="1.3"/>
<text transform="translate(488.17,1534.10) scale(0.86,1)" font-size="22" fill="#000">−0.1</text>
<line x1="575.10" y1="1509.50" x2="575.10" y2="1513.70" stroke="#000" stroke-width="1.3"/>
<text transform="translate(561.90,1534.10) scale(0.86,1)" font-size="22" fill="#000">0.0</text>
<line x1="643.30" y1="1509.50" x2="643.30" y2="1513.70" stroke="#000" stroke-width="1.3"/>
<text transform="translate(630.20,1534.10) scale(0.86,1)" font-size="22" fill="#000">0.1</text>
<line x1="711.50" y1="1509.50" x2="711.50" y2="1513.70" stroke="#000" stroke-width="1.3"/>
<text transform="translate(698.45,1534.10) scale(0.86,1)" font-size="22" fill="#000">0.2</text>
<text transform="translate(541.97,1558.80) scale(0.84,1)" font-size="22" fill="#000">Time (s)</text>
<text transform="translate(553.82,472.30) scale(0.86,1)" font-size="25" fill="#b85560">DS1</text>
<line x1="573.20" y1="506.30" x2="608.20" y2="506.30" stroke="#7f58a2" stroke-width="2.0"/>
<ellipse cx="590.30" cy="506.30" rx="3.60" ry="4.10" fill="#9467bd"/>
<text transform="translate(402.29,511.40) scale(0.8,1)" font-size="23.5" fill="#9467bd">SPF</text>
<line x1="575.70" y1="523.74" x2="618.40" y2="523.74" stroke="#7f58a2" stroke-width="2.0"/>
<ellipse cx="597.40" cy="523.74" rx="3.60" ry="4.10" fill="#9467bd"/>
<text transform="translate(412.53,528.84) scale(0.8,1)" font-size="23.5" fill="#9467bd">RN</text>
<line x1="564.90" y1="541.18" x2="581.00" y2="541.18" stroke="#7f58a2" stroke-width="2.0"/>
<ellipse cx="573.20" cy="541.18" rx="3.60" ry="4.10" fill="#9467bd"/>
<text transform="translate(413.00,546.28) scale(0.8,1)" font-size="23.5" fill="#9467bd">NB</text>
<line x1="632.20" y1="558.62" x2="638.20" y2="558.62" stroke="#7f58a2" stroke-width="2.0"/>
<ellipse cx="635.20" cy="558.62" rx="3.60" ry="4.10" fill="#9467bd"/>
<text transform="translate(417.98,563.72) scale(0.8,1)" font-size="23.5" fill="#9467bd">LT</text>
<line x1="572.60" y1="576.06" x2="665.50" y2="576.06" stroke="#7f58a2" stroke-width="2.0"/>
<ellipse cx="618.40" cy="576.06" rx="3.60" ry="4.10" fill="#9467bd"/>
<text transform="translate(411.87,581.16) scale(0.8,1)" font-size="23.5" fill="#9467bd">OP</text>
<line x1="570.80" y1="593.50" x2="590.00" y2="593.50" stroke="#7f58a2" stroke-width="2.0"/>
<ellipse cx="580.10" cy="593.50" rx="3.60" ry="4.10" fill="#9467bd"/>
<text transform="translate(396.83,598.60) scale(0.8,1)" font-size="23.5" fill="#9467bd">MRN</text>
<line x1="544.80" y1="610.94" x2="587.50" y2="610.94" stroke="#7f58a2" stroke-width="2.0"/>
<ellipse cx="566.40" cy="610.94" rx="3.60" ry="4.10" fill="#9467bd"/>
<text transform="translate(398.81,616.04) scale(0.8,1)" font-size="23.5" fill="#9467bd">NOT</text>
<line x1="579.40" y1="628.38" x2="586.90" y2="628.38" stroke="#7f58a2" stroke-width="2.0"/>
<ellipse cx="582.50" cy="628.38" rx="3.60" ry="4.10" fill="#9467bd"/>
<text transform="translate(400.97,633.48) scale(0.8,1)" font-size="23.5" fill="#9467bd">APN</text>
<line x1="524.00" y1="645.82" x2="560.20" y2="645.82" stroke="#7f58a2" stroke-width="2.0"/>
<ellipse cx="541.70" cy="645.82" rx="3.60" ry="4.10" fill="#9467bd"/>
<text transform="translate(403.23,650.92) scale(0.8,1)" font-size="23.5" fill="#9467bd">SCs</text>
<line x1="525.60" y1="663.26" x2="575.10" y2="663.26" stroke="#7f58a2" stroke-width="2.0"/>
<ellipse cx="551.00" cy="663.26" rx="3.60" ry="4.10" fill="#9467bd"/>
<text transform="translate(397.49,668.36) scale(0.8,1)" font-size="23.5" fill="#9467bd">SCm</text>
<line x1="551.00" y1="680.70" x2="588.10" y2="680.70" stroke="#7f58a2" stroke-width="2.0"/>
<ellipse cx="569.50" cy="680.70" rx="3.60" ry="4.10" fill="#9467bd"/>
<text transform="translate(393.36,685.80) scale(0.8,1)" font-size="23.5" fill="#9467bd">SCsg</text>
<line x1="571.10" y1="698.14" x2="592.10" y2="698.14" stroke="#7f58a2" stroke-width="2.0"/>
<ellipse cx="581.90" cy="698.14" rx="3.60" ry="4.10" fill="#9467bd"/>
<text transform="translate(398.62,703.24) scale(0.8,1)" font-size="23.5" fill="#9467bd">SCig</text>
<line x1="562.70" y1="715.58" x2="595.80" y2="715.58" stroke="#7f58a2" stroke-width="2.0"/>
<ellipse cx="579.40" cy="715.58" rx="3.60" ry="4.10" fill="#9467bd"/>
<text transform="translate(410.84,720.68) scale(0.8,1)" font-size="23.5" fill="#9467bd">MB</text>
<line x1="564.30" y1="733.02" x2="575.10" y2="733.02" stroke="#784940" stroke-width="2.0"/>
<ellipse cx="570.10" cy="733.02" rx="3.60" ry="4.10" fill="#8c564b"/>
<text transform="translate(409.15,738.12) scale(0.8,1)" font-size="23.5" fill="#8c564b">LSr</text>
<line x1="572.60" y1="750.46" x2="578.80" y2="750.46" stroke="#784940" stroke-width="2.0"/>
<ellipse cx="575.10" cy="750.46" rx="3.60" ry="4.10" fill="#8c564b"/>
<text transform="translate(416.01,755.56) scale(0.8,1)" font-size="23.5" fill="#8c564b">LS</text>
<line x1="560.20" y1="767.90" x2="585.00" y2="767.90" stroke="#784940" stroke-width="2.0"/>
<ellipse cx="572.60" cy="767.90" rx="3.60" ry="4.10" fill="#8c564b"/>
<text transform="translate(410.75,773.00) scale(0.8,1)" font-size="23.5" fill="#8c564b">MS</text>
<line x1="557.80" y1="785.34" x2="575.10" y2="785.34" stroke="#784940" stroke-width="2.0"/>
<ellipse cx="566.40" cy="785.34" rx="3.60" ry="4.10" fill="#8c564b"/>
<text transform="translate(400.41,790.44) scale(0.8,1)" font-size="23.5" fill="#8c564b">ACB</text>
<line x1="575.70" y1="802.78" x2="603.00" y2="802.78" stroke="#258925" stroke-width="2.0"/>
<ellipse cx="589.70" cy="802.78" rx="3.60" ry="4.10" fill="#2ca02c"/>
<text transform="translate(401.25,807.88) scale(0.8,1)" font-size="23.5" fill="#2ca02c">HPF</text>
<line x1="600.50" y1="820.22" x2="610.70" y2="820.22" stroke="#258925" stroke-width="2.0"/>
<ellipse cx="605.40" cy="820.22" rx="3.60" ry="4.10" fill="#2ca02c"/>
<text transform="translate(397.21,825.32) scale(0.8,1)" font-size="23.5" fill="#2ca02c">ProS</text>
<line x1="551.60" y1="837.66" x2="575.10" y2="837.66" stroke="#258925" stroke-width="2.0"/>
<ellipse cx="563.30" cy="837.66" rx="3.60" ry="4.10" fill="#2ca02c"/>
<text transform="translate(387.34,842.76) scale(0.8,1)" font-size="23.5" fill="#2ca02c">POST</text>
<line x1="598.90" y1="855.10" x2="608.20" y2="855.10" stroke="#258925" stroke-width="2.0"/>
<ellipse cx="603.00" cy="855.10" rx="3.60" ry="4.10" fill="#2ca02c"/>
<text transform="translate(400.41,860.20) scale(0.8,1)" font-size="23.5" fill="#2ca02c">SUB</text>
<line x1="573.60" y1="872.54" x2="579.60" y2="872.54" stroke="#258925" stroke-width="2.0"/>
<ellipse cx="576.60" cy="872.54" rx="3.60" ry="4.10" fill="#2ca02c"/>
<text transform="translate(411.31,877.64) scale(0.8,1)" font-size="23.5" fill="#2ca02c">DG</text>
<line x1="589.70" y1="889.98" x2="599.90" y2="889.98" stroke="#258925" stroke-width="2.0"/>
<ellipse cx="594.30" cy="889.98" rx="3.60" ry="4.10" fill="#2ca02c"/>
<text transform="translate(402.29,895.08) scale(0.8,1)" font-size="23.5" fill="#2ca02c">CA3</text>
<line x1="581.30" y1="907.42" x2="619.70" y2="907.42" stroke="#258925" stroke-width="2.0"/>
<ellipse cx="600.50" cy="907.42" rx="3.60" ry="4.10" fill="#2ca02c"/>
<text transform="translate(402.47,912.52) scale(0.8,1)" font-size="23.5" fill="#2ca02c">CA2</text>
<line x1="582.00" y1="924.86" x2="588.00" y2="924.86" stroke="#258925" stroke-width="2.0"/>
<ellipse cx="585.00" cy="924.86" rx="3.60" ry="4.10" fill="#2ca02c"/>
<text transform="translate(402.38,929.96) scale(0.8,1)" font-size="23.5" fill="#2ca02c">CA1</text>
<line x1="536.70" y1="942.30" x2="591.80" y2="942.30" stroke="#b82122" stroke-width="2.0"/>
<ellipse cx="564.30" cy="942.30" rx="3.60" ry="4.10" fill="#d62728"/>
<text transform="translate(423.15,947.40) scale(0.8,1)" font-size="23.5" fill="#d62728">ZI</text>
<line x1="564.90" y1="959.74" x2="594.30" y2="959.74" stroke="#db6d0c" stroke-width="2.0"/>
<ellipse cx="579.10" cy="959.74" rx="3.60" ry="4.10" fill="#ff7f0e"/>
<text transform="translate(415.63,964.84) scale(0.8,1)" font-size="23.5" fill="#ff7f0e">LH</text>
<line x1="584.40" y1="977.18" x2="598.30" y2="977.18" stroke="#db6d0c" stroke-width="2.0"/>
<ellipse cx="591.20" cy="977.18" rx="3.60" ry="4.10" fill="#ff7f0e"/>
<text transform="translate(409.71,982.28) scale(0.8,1)" font-size="23.5" fill="#ff7f0e">MD</text>
<line x1="559.30" y1="994.62" x2="577.30" y2="994.62" stroke="#db6d0c" stroke-width="2.0"/>
<ellipse cx="568.00" cy="994.62" rx="3.60" ry="4.10" fill="#ff7f0e"/>
<text transform="translate(398.90,999.72) scale(0.8,1)" font-size="23.5" fill="#ff7f0e">SGN</text>
<line x1="513.20" y1="1012.06" x2="603.00" y2="1012.06" stroke="#db6d0c" stroke-width="2.0"/>
<ellipse cx="558.10" cy="1012.06" rx="3.60" ry="4.10" fill="#ff7f0e"/>
<text transform="translate(408.40,1017.16) scale(0.8,1)" font-size="23.5" fill="#ff7f0e">IGL</text>
<line x1="585.60" y1="1029.50" x2="631.40" y2="1029.50" stroke="#db6d0c" stroke-width="2.0"/>
<ellipse cx="608.50" cy="1029.50" rx="3.60" ry="4.10" fill="#ff7f0e"/>
<text transform="translate(403.98,1034.60) scale(0.8,1)" font-size="23.5" fill="#ff7f0e">IntG</text>
<line x1="533.00" y1="1046.94" x2="588.70" y2="1046.94" stroke="#db6d0c" stroke-width="2.0"/>
<ellipse cx="560.50" cy="1046.94" rx="3.60" ry="4.10" fill="#ff7f0e"/>
<text transform="translate(411.12,1052.04) scale(0.8,1)" font-size="23.5" fill="#ff7f0e">Eth</text>
<line x1="586.90" y1="1064.38" x2="609.80" y2="1064.38" stroke="#db6d0c" stroke-width="2.0"/>
<ellipse cx="598.30" cy="1064.38" rx="3.60" ry="4.10" fill="#ff7f0e"/>
<text transform="translate(401.06,1069.48) scale(0.8,1)" font-size="23.5" fill="#ff7f0e">POL</text>
<line x1="555.60" y1="1081.82" x2="583.80" y2="1081.82" stroke="#db6d0c" stroke-width="2.0"/>
<ellipse cx="569.50" cy="1081.82" rx="3.60" ry="4.10" fill="#ff7f0e"/>
<text transform="translate(403.13,1086.92) scale(0.8,1)" font-size="23.5" fill="#ff7f0e">VPL</text>
<line x1="613.50" y1="1099.26" x2="668.60" y2="1099.26" stroke="#db6d0c" stroke-width="2.0"/>
<ellipse cx="640.70" cy="1099.26" rx="3.60" ry="4.10" fill="#ff7f0e"/>
<text transform="translate(403.70,1104.36) scale(0.8,1)" font-size="23.5" fill="#ff7f0e">LGv</text>
<line x1="571.10" y1="1116.70" x2="583.80" y2="1116.70" stroke="#db6d0c" stroke-width="2.0"/>
<ellipse cx="577.00" cy="1116.70" rx="3.60" ry="4.10" fill="#ff7f0e"/>
<text transform="translate(411.87,1121.80) scale(0.8,1)" font-size="23.5" fill="#ff7f0e">PO</text>
<line x1="568.00" y1="1134.14" x2="579.70" y2="1134.14" stroke="#db6d0c" stroke-width="2.0"/>
<ellipse cx="573.90" cy="1134.14" rx="3.60" ry="4.10" fill="#ff7f0e"/>
<text transform="translate(409.15,1139.24) scale(0.8,1)" font-size="23.5" fill="#ff7f0e">MG</text>
<line x1="541.70" y1="1151.58" x2="609.80" y2="1151.58" stroke="#db6d0c" stroke-width="2.0"/>
<ellipse cx="575.70" cy="1151.58" rx="3.60" ry="4.10" fill="#ff7f0e"/>
<text transform="translate(398.62,1156.68) scale(0.8,1)" font-size="23.5" fill="#ff7f0e">MGd</text>
<line x1="568.30" y1="1169.02" x2="620.60" y2="1169.02" stroke="#db6d0c" stroke-width="2.0"/>
<ellipse cx="594.30" cy="1169.02" rx="3.60" ry="4.10" fill="#ff7f0e"/>
<text transform="translate(398.53,1174.12) scale(0.8,1)" font-size="23.5" fill="#ff7f0e">MGv</text>
<line x1="530.20" y1="1186.46" x2="601.70" y2="1186.46" stroke="#db6d0c" stroke-width="2.0"/>
<ellipse cx="565.80" cy="1186.46" rx="3.60" ry="4.10" fill="#ff7f0e"/>
<text transform="translate(393.36,1191.56) scale(0.8,1)" font-size="23.5" fill="#ff7f0e">MGm</text>
<line x1="581.40" y1="1203.90" x2="590.40" y2="1203.90" stroke="#db6d0c" stroke-width="2.0"/>
<ellipse cx="585.90" cy="1203.90" rx="3.60" ry="4.10" fill="#ff7f0e"/>
<text transform="translate(414.60,1209.00) scale(0.8,1)" font-size="23.5" fill="#ff7f0e">TH</text>
<line x1="582.60" y1="1221.34" x2="588.60" y2="1221.34" stroke="#db6d0c" stroke-width="2.0"/>
<ellipse cx="585.60" cy="1221.34" rx="3.60" ry="4.10" fill="#ff7f0e"/>
<text transform="translate(416.10,1226.44) scale(0.8,1)" font-size="23.5" fill="#ff7f0e">LP</text>
<line x1="540.70" y1="1238.78" x2="564.00" y2="1238.78" stroke="#db6d0c" stroke-width="2.0"/>
<ellipse cx="551.90" cy="1238.78" rx="3.60" ry="4.10" fill="#ff7f0e"/>
<text transform="translate(414.98,1243.88) scale(0.8,1)" font-size="23.5" fill="#ff7f0e">LD</text>
<line x1="579.80" y1="1256.22" x2="589.00" y2="1256.22" stroke="#db6d0c" stroke-width="2.0"/>
<ellipse cx="584.40" cy="1256.22" rx="3.60" ry="4.10" fill="#ff7f0e"/>
<text transform="translate(403.79,1261.32) scale(0.8,1)" font-size="23.5" fill="#ff7f0e">LGd</text>
<line x1="578.20" y1="1273.66" x2="591.20" y2="1273.66" stroke="#00006e" stroke-width="2.0"/>
<ellipse cx="584.10" cy="1273.66" rx="3.60" ry="4.10" fill="#000080"/>
<text transform="translate(415.73,1278.76) scale(0.8,1)" font-size="23.5" fill="#000080">PL</text>
<line x1="565.80" y1="1291.10" x2="577.30" y2="1291.10" stroke="#00006e" stroke-width="2.0"/>
<ellipse cx="571.70" cy="1291.10" rx="3.60" ry="4.10" fill="#000080"/>
<text transform="translate(399.09,1296.20) scale(0.8,1)" font-size="23.5" fill="#000080">MOs</text>
<line x1="581.30" y1="1308.54" x2="591.80" y2="1308.54" stroke="#00006e" stroke-width="2.0"/>
<ellipse cx="585.90" cy="1308.54" rx="3.60" ry="4.10" fill="#000080"/>
<text transform="translate(399.47,1313.64) scale(0.8,1)" font-size="23.5" fill="#000080">ACA</text>
<line x1="588.70" y1="1325.98" x2="603.60" y2="1325.98" stroke="#00006e" stroke-width="2.0"/>
<ellipse cx="595.80" cy="1325.98" rx="3.60" ry="4.10" fill="#000080"/>
<text transform="translate(400.41,1331.08) scale(0.8,1)" font-size="23.5" fill="#000080">RSP</text>
<line x1="582.80" y1="1343.42" x2="608.20" y2="1343.42" stroke="#1a669a" stroke-width="2.0"/>
<ellipse cx="594.90" cy="1343.42" rx="3.60" ry="4.10" fill="#1f77b4"/>
<text transform="translate(400.69,1348.52) scale(0.8,1)" font-size="23.5" fill="#1f77b4">VISli</text>
<line x1="572.60" y1="1360.86" x2="592.70" y2="1360.86" stroke="#1a669a" stroke-width="2.0"/>
<ellipse cx="581.90" cy="1360.86" rx="3.60" ry="4.10" fill="#1f77b4"/>
<text transform="translate(366.00,1365.96) scale(0.8,1)" font-size="23.5" fill="#1f77b4">VISmma</text>
<line x1="572.70" y1="1378.30" x2="578.70" y2="1378.30" stroke="#1a669a" stroke-width="2.0"/>
<ellipse cx="575.70" cy="1378.30" rx="3.60" ry="4.10" fill="#1f77b4"/>
<text transform="translate(394.39,1383.40) scale(0.8,1)" font-size="23.5" fill="#1f77b4">VISal</text>
<line x1="576.60" y1="1395.74" x2="603.00" y2="1395.74" stroke="#1a669a" stroke-width="2.0"/>
<ellipse cx="589.70" cy="1395.74" rx="3.60" ry="4.10" fill="#1f77b4"/>
<text transform="translate(408.68,1400.84) scale(0.8,1)" font-size="23.5" fill="#1f77b4">VIS</text>
<line x1="587.20" y1="1413.18" x2="598.90" y2="1413.18" stroke="#1a669a" stroke-width="2.0"/>
<ellipse cx="592.10" cy="1413.18" rx="3.60" ry="4.10" fill="#1f77b4"/>
<text transform="translate(382.83,1418.28) scale(0.8,1)" font-size="23.5" fill="#1f77b4">VISpm</text>
<line x1="554.70" y1="1430.62" x2="575.10" y2="1430.62" stroke="#1a669a" stroke-width="2.0"/>
<ellipse cx="565.20" cy="1430.62" rx="3.60" ry="4.10" fill="#1f77b4"/>
<text transform="translate(397.40,1435.72) scale(0.8,1)" font-size="23.5" fill="#1f77b4">VISa</text>
<line x1="574.90" y1="1448.06" x2="580.90" y2="1448.06" stroke="#1a669a" stroke-width="2.0"/>
<ellipse cx="577.90" cy="1448.06" rx="3.60" ry="4.10" fill="#1f77b4"/>
<text transform="translate(382.83,1453.16) scale(0.8,1)" font-size="23.5" fill="#1f77b4">VISam</text>
<line x1="580.40" y1="1465.50" x2="593.70" y2="1465.50" stroke="#1a669a" stroke-width="2.0"/>
<ellipse cx="586.60" cy="1465.50" rx="3.60" ry="4.10" fill="#1f77b4"/>
<text transform="translate(398.62,1470.60) scale(0.8,1)" font-size="23.5" fill="#1f77b4">VISrl</text>
<line x1="594.30" y1="1482.94" x2="609.20" y2="1482.94" stroke="#1a669a" stroke-width="2.0"/>
<ellipse cx="601.70" cy="1482.94" rx="3.60" ry="4.10" fill="#1f77b4"/>
<text transform="translate(404.92,1488.04) scale(0.8,1)" font-size="23.5" fill="#1f77b4">VISl</text>
<line x1="585.70" y1="1500.38" x2="591.70" y2="1500.38" stroke="#1a669a" stroke-width="2.0"/>
<ellipse cx="588.70" cy="1500.38" rx="3.60" ry="4.10" fill="#1f77b4"/>
<text transform="translate(398.15,1505.48) scale(0.8,1)" font-size="23.5" fill="#1f77b4">VISp</text>
<line x1="903.30" y1="480.20" x2="903.30" y2="1509.50" stroke="#5e5e5e" stroke-width="1.9" stroke-dasharray="6.2 2.9" stroke-dashoffset="5.7"/>
<line x1="766.90" y1="1509.50" x2="1039.90" y2="1509.50" stroke="#000" stroke-width="1.5"/>
<line x1="766.90" y1="1509.50" x2="766.90" y2="1513.70" stroke="#000" stroke-width="1.3"/>
<text transform="translate(748.22,1534.10) scale(0.86,1)" font-size="22" fill="#000">−0.2</text>
<line x1="835.10" y1="1509.50" x2="835.10" y2="1513.70" stroke="#000" stroke-width="1.3"/>
<text transform="translate(816.37,1534.10) scale(0.86,1)" font-size="22" fill="#000">−0.1</text>
<line x1="903.30" y1="1509.50" x2="903.30" y2="1513.70" stroke="#000" stroke-width="1.3"/>
<text transform="translate(890.10,1534.10) scale(0.86,1)" font-size="22" fill="#000">0.0</text>
<line x1="971.50" y1="1509.50" x2="971.50" y2="1513.70" stroke="#000" stroke-width="1.3"/>
<text transform="translate(958.40,1534.10) scale(0.86,1)" font-size="22" fill="#000">0.1</text>
<line x1="1039.70" y1="1509.50" x2="1039.70" y2="1513.70" stroke="#000" stroke-width="1.3"/>
<text transform="translate(1026.65,1534.10) scale(0.86,1)" font-size="22" fill="#000">0.2</text>
<text transform="translate(870.17,1558.80) scale(0.84,1)" font-size="22" fill="#000">Time (s)</text>
<text transform="translate(882.07,472.30) scale(0.86,1)" font-size="25" fill="#138a86">DS2</text>
<line x1="891.20" y1="506.30" x2="911.30" y2="506.30" stroke="#7f58a2" stroke-width="2.0"/>
<ellipse cx="901.10" cy="506.30" rx="3.60" ry="4.10" fill="#9467bd"/>
<text transform="translate(730.49,511.40) scale(0.8,1)" font-size="23.5" fill="#9467bd">SPF</text>
<line x1="898.70" y1="523.74" x2="918.80" y2="523.74" stroke="#7f58a2" stroke-width="2.0"/>
<ellipse cx="908.30" cy="523.74" rx="3.60" ry="4.10" fill="#9467bd"/>
<text transform="translate(740.73,528.84) scale(0.8,1)" font-size="23.5" fill="#9467bd">RN</text>
<line x1="897.10" y1="541.18" x2="913.50" y2="541.18" stroke="#7f58a2" stroke-width="2.0"/>
<ellipse cx="905.20" cy="541.18" rx="3.60" ry="4.10" fill="#9467bd"/>
<text transform="translate(741.20,546.28) scale(0.8,1)" font-size="23.5" fill="#9467bd">NB</text>
<line x1="910.40" y1="558.62" x2="939.80" y2="558.62" stroke="#7f58a2" stroke-width="2.0"/>
<ellipse cx="924.40" cy="558.62" rx="3.60" ry="4.10" fill="#9467bd"/>
<text transform="translate(746.18,563.72) scale(0.8,1)" font-size="23.5" fill="#9467bd">LT</text>
<line x1="914.40" y1="576.06" x2="940.50" y2="576.06" stroke="#7f58a2" stroke-width="2.0"/>
<ellipse cx="926.80" cy="576.06" rx="3.60" ry="4.10" fill="#9467bd"/>
<text transform="translate(740.07,581.16) scale(0.8,1)" font-size="23.5" fill="#9467bd">OP</text>
<line x1="908.90" y1="593.50" x2="921.30" y2="593.50" stroke="#7f58a2" stroke-width="2.0"/>
<ellipse cx="914.40" cy="593.50" rx="3.60" ry="4.10" fill="#9467bd"/>
<text transform="translate(725.03,598.60) scale(0.8,1)" font-size="23.5" fill="#9467bd">MRN</text>
<line x1="929.30" y1="610.94" x2="950.00" y2="610.94" stroke="#7f58a2" stroke-width="2.0"/>
<ellipse cx="939.80" cy="610.94" rx="3.60" ry="4.10" fill="#9467bd"/>
<text transform="translate(727.01,616.04) scale(0.8,1)" font-size="23.5" fill="#9467bd">NOT</text>
<line x1="913.60" y1="628.38" x2="919.60" y2="628.38" stroke="#7f58a2" stroke-width="2.0"/>
<ellipse cx="916.60" cy="628.38" rx="3.60" ry="4.10" fill="#9467bd"/>
<text transform="translate(729.17,633.48) scale(0.8,1)" font-size="23.5" fill="#9467bd">APN</text>
<line x1="923.10" y1="645.82" x2="947.60" y2="645.82" stroke="#7f58a2" stroke-width="2.0"/>
<ellipse cx="935.20" cy="645.82" rx="3.60" ry="4.10" fill="#9467bd"/>
<text transform="translate(731.43,650.92) scale(0.8,1)" font-size="23.5" fill="#9467bd">SCs</text>
<line x1="888.70" y1="663.26" x2="915.70" y2="663.26" stroke="#7f58a2" stroke-width="2.0"/>
<ellipse cx="902.10" cy="663.26" rx="3.60" ry="4.10" fill="#9467bd"/>
<text transform="translate(725.69,668.36) scale(0.8,1)" font-size="23.5" fill="#9467bd">SCm</text>
<line x1="895.30" y1="680.70" x2="942.90" y2="680.70" stroke="#7f58a2" stroke-width="2.0"/>
<ellipse cx="918.80" cy="680.70" rx="3.60" ry="4.10" fill="#9467bd"/>
<text transform="translate(721.56,685.80) scale(0.8,1)" font-size="23.5" fill="#9467bd">SCsg</text>
<line x1="908.90" y1="698.14" x2="923.70" y2="698.14" stroke="#7f58a2" stroke-width="2.0"/>
<ellipse cx="916.00" cy="698.14" rx="3.60" ry="4.10" fill="#9467bd"/>
<text transform="translate(726.82,703.24) scale(0.8,1)" font-size="23.5" fill="#9467bd">SCig</text>
<line x1="907.30" y1="715.58" x2="925.00" y2="715.58" stroke="#7f58a2" stroke-width="2.0"/>
<ellipse cx="915.70" cy="715.58" rx="3.60" ry="4.10" fill="#9467bd"/>
<text transform="translate(739.04,720.68) scale(0.8,1)" font-size="23.5" fill="#9467bd">MB</text>
<line x1="901.50" y1="733.02" x2="907.50" y2="733.02" stroke="#784940" stroke-width="2.0"/>
<ellipse cx="904.50" cy="733.02" rx="3.60" ry="4.10" fill="#8c564b"/>
<text transform="translate(737.35,738.12) scale(0.8,1)" font-size="23.5" fill="#8c564b">LSr</text>
<line x1="909.30" y1="750.46" x2="915.30" y2="750.46" stroke="#784940" stroke-width="2.0"/>
<ellipse cx="912.30" cy="750.46" rx="3.60" ry="4.10" fill="#8c564b"/>
<text transform="translate(744.21,755.56) scale(0.8,1)" font-size="23.5" fill="#8c564b">LS</text>
<line x1="857.80" y1="767.90" x2="889.70" y2="767.90" stroke="#784940" stroke-width="2.0"/>
<ellipse cx="873.60" cy="767.90" rx="3.60" ry="4.10" fill="#8c564b"/>
<text transform="translate(738.95,773.00) scale(0.8,1)" font-size="23.5" fill="#8c564b">MS</text>
<line x1="892.50" y1="785.34" x2="910.40" y2="785.34" stroke="#784940" stroke-width="2.0"/>
<ellipse cx="901.10" cy="785.34" rx="3.60" ry="4.10" fill="#8c564b"/>
<text transform="translate(728.61,790.44) scale(0.8,1)" font-size="23.5" fill="#8c564b">ACB</text>
<line x1="921.90" y1="802.78" x2="938.60" y2="802.78" stroke="#258925" stroke-width="2.0"/>
<ellipse cx="929.90" cy="802.78" rx="3.60" ry="4.10" fill="#2ca02c"/>
<text transform="translate(729.45,807.88) scale(0.8,1)" font-size="23.5" fill="#2ca02c">HPF</text>
<line x1="914.20" y1="820.22" x2="920.20" y2="820.22" stroke="#258925" stroke-width="2.0"/>
<ellipse cx="917.20" cy="820.22" rx="3.60" ry="4.10" fill="#2ca02c"/>
<text transform="translate(725.41,825.32) scale(0.8,1)" font-size="23.5" fill="#2ca02c">ProS</text>
<line x1="899.60" y1="837.66" x2="910.40" y2="837.66" stroke="#258925" stroke-width="2.0"/>
<ellipse cx="905.20" cy="837.66" rx="3.60" ry="4.10" fill="#2ca02c"/>
<text transform="translate(715.54,842.76) scale(0.8,1)" font-size="23.5" fill="#2ca02c">POST</text>
<line x1="916.70" y1="855.10" x2="922.70" y2="855.10" stroke="#258925" stroke-width="2.0"/>
<ellipse cx="919.70" cy="855.10" rx="3.60" ry="4.10" fill="#2ca02c"/>
<text transform="translate(728.61,860.20) scale(0.8,1)" font-size="23.5" fill="#2ca02c">SUB</text>
<line x1="896.60" y1="872.54" x2="902.60" y2="872.54" stroke="#258925" stroke-width="2.0"/>
<ellipse cx="899.60" cy="872.54" rx="3.60" ry="4.10" fill="#2ca02c"/>
<text transform="translate(739.51,877.64) scale(0.8,1)" font-size="23.5" fill="#2ca02c">DG</text>
<line x1="887.30" y1="889.98" x2="893.30" y2="889.98" stroke="#258925" stroke-width="2.0"/>
<ellipse cx="890.30" cy="889.98" rx="3.60" ry="4.10" fill="#2ca02c"/>
<text transform="translate(730.49,895.08) scale(0.8,1)" font-size="23.5" fill="#2ca02c">CA3</text>
<line x1="898.30" y1="907.42" x2="925.90" y2="907.42" stroke="#258925" stroke-width="2.0"/>
<ellipse cx="912.00" cy="907.42" rx="3.60" ry="4.10" fill="#2ca02c"/>
<text transform="translate(730.67,912.52) scale(0.8,1)" font-size="23.5" fill="#2ca02c">CA2</text>
<line x1="898.10" y1="924.86" x2="904.10" y2="924.86" stroke="#258925" stroke-width="2.0"/>
<ellipse cx="901.10" cy="924.86" rx="3.60" ry="4.10" fill="#2ca02c"/>
<text transform="translate(730.58,929.96) scale(0.8,1)" font-size="23.5" fill="#2ca02c">CA1</text>
<line x1="891.20" y1="942.30" x2="913.80" y2="942.30" stroke="#b82122" stroke-width="2.0"/>
<ellipse cx="902.70" cy="942.30" rx="3.60" ry="4.10" fill="#d62728"/>
<text transform="translate(751.35,947.40) scale(0.8,1)" font-size="23.5" fill="#d62728">ZI</text>
<line x1="918.20" y1="959.74" x2="934.60" y2="959.74" stroke="#db6d0c" stroke-width="2.0"/>
<ellipse cx="925.90" cy="959.74" rx="3.60" ry="4.10" fill="#ff7f0e"/>
<text transform="translate(743.83,964.84) scale(0.8,1)" font-size="23.5" fill="#ff7f0e">LH</text>
<line x1="932.10" y1="977.18" x2="942.90" y2="977.18" stroke="#db6d0c" stroke-width="2.0"/>
<ellipse cx="937.70" cy="977.18" rx="3.60" ry="4.10" fill="#ff7f0e"/>
<text transform="translate(737.91,982.28) scale(0.8,1)" font-size="23.5" fill="#ff7f0e">MD</text>
<line x1="921.90" y1="994.62" x2="935.20" y2="994.62" stroke="#db6d0c" stroke-width="2.0"/>
<ellipse cx="928.40" cy="994.62" rx="3.60" ry="4.10" fill="#ff7f0e"/>
<text transform="translate(727.10,999.72) scale(0.8,1)" font-size="23.5" fill="#ff7f0e">SGN</text>
<line x1="937.70" y1="1012.06" x2="976.10" y2="1012.06" stroke="#db6d0c" stroke-width="2.0"/>
<ellipse cx="956.60" cy="1012.06" rx="3.60" ry="4.10" fill="#ff7f0e"/>
<text transform="translate(736.60,1017.16) scale(0.8,1)" font-size="23.5" fill="#ff7f0e">IGL</text>
<line x1="895.60" y1="1029.50" x2="914.40" y2="1029.50" stroke="#db6d0c" stroke-width="2.0"/>
<ellipse cx="904.80" cy="1029.50" rx="3.60" ry="4.10" fill="#ff7f0e"/>
<text transform="translate(732.18,1034.60) scale(0.8,1)" font-size="23.5" fill="#ff7f0e">IntG</text>
<line x1="909.80" y1="1046.94" x2="930.50" y2="1046.94" stroke="#db6d0c" stroke-width="2.0"/>
<ellipse cx="919.70" cy="1046.94" rx="3.60" ry="4.10" fill="#ff7f0e"/>
<text transform="translate(739.32,1052.04) scale(0.8,1)" font-size="23.5" fill="#ff7f0e">Eth</text>
<line x1="911.00" y1="1064.38" x2="924.40" y2="1064.38" stroke="#db6d0c" stroke-width="2.0"/>
<ellipse cx="917.50" cy="1064.38" rx="3.60" ry="4.10" fill="#ff7f0e"/>
<text transform="translate(729.26,1069.48) scale(0.8,1)" font-size="23.5" fill="#ff7f0e">POL</text>
<line x1="925.60" y1="1081.82" x2="945.40" y2="1081.82" stroke="#db6d0c" stroke-width="2.0"/>
<ellipse cx="935.80" cy="1081.82" rx="3.60" ry="4.10" fill="#ff7f0e"/>
<text transform="translate(731.33,1086.92) scale(0.8,1)" font-size="23.5" fill="#ff7f0e">VPL</text>
<line x1="932.40" y1="1099.26" x2="956.90" y2="1099.26" stroke="#db6d0c" stroke-width="2.0"/>
<ellipse cx="944.50" cy="1099.26" rx="3.60" ry="4.10" fill="#ff7f0e"/>
<text transform="translate(731.90,1104.36) scale(0.8,1)" font-size="23.5" fill="#ff7f0e">LGv</text>
<line x1="932.40" y1="1116.70" x2="942.30" y2="1116.70" stroke="#db6d0c" stroke-width="2.0"/>
<ellipse cx="937.00" cy="1116.70" rx="3.60" ry="4.10" fill="#ff7f0e"/>
<text transform="translate(740.07,1121.80) scale(0.8,1)" font-size="23.5" fill="#ff7f0e">PO</text>
<line x1="897.10" y1="1134.14" x2="905.80" y2="1134.14" stroke="#db6d0c" stroke-width="2.0"/>
<ellipse cx="901.40" cy="1134.14" rx="3.60" ry="4.10" fill="#ff7f0e"/>
<text transform="translate(737.35,1139.24) scale(0.8,1)" font-size="23.5" fill="#ff7f0e">MG</text>
<line x1="932.10" y1="1151.58" x2="976.10" y2="1151.58" stroke="#db6d0c" stroke-width="2.0"/>
<ellipse cx="953.80" cy="1151.58" rx="3.60" ry="4.10" fill="#ff7f0e"/>
<text transform="translate(726.82,1156.68) scale(0.8,1)" font-size="23.5" fill="#ff7f0e">MGd</text>
<line x1="895.90" y1="1169.02" x2="923.10" y2="1169.02" stroke="#db6d0c" stroke-width="2.0"/>
<ellipse cx="908.90" cy="1169.02" rx="3.60" ry="4.10" fill="#ff7f0e"/>
<text transform="translate(726.73,1174.12) scale(0.8,1)" font-size="23.5" fill="#ff7f0e">MGv</text>
<line x1="890.30" y1="1186.46" x2="905.80" y2="1186.46" stroke="#db6d0c" stroke-width="2.0"/>
<ellipse cx="898.00" cy="1186.46" rx="3.60" ry="4.10" fill="#ff7f0e"/>
<text transform="translate(721.56,1191.56) scale(0.8,1)" font-size="23.5" fill="#ff7f0e">MGm</text>
<line x1="918.30" y1="1203.90" x2="924.30" y2="1203.90" stroke="#db6d0c" stroke-width="2.0"/>
<ellipse cx="921.30" cy="1203.90" rx="3.60" ry="4.10" fill="#ff7f0e"/>
<text transform="translate(742.80,1209.00) scale(0.8,1)" font-size="23.5" fill="#ff7f0e">TH</text>
<line x1="925.40" y1="1221.34" x2="931.40" y2="1221.34" stroke="#db6d0c" stroke-width="2.0"/>
<ellipse cx="928.40" cy="1221.34" rx="3.60" ry="4.10" fill="#ff7f0e"/>
<text transform="translate(744.30,1226.44) scale(0.8,1)" font-size="23.5" fill="#ff7f0e">LP</text>
<line x1="886.60" y1="1238.78" x2="899.60" y2="1238.78" stroke="#db6d0c" stroke-width="2.0"/>
<ellipse cx="892.80" cy="1238.78" rx="3.60" ry="4.10" fill="#ff7f0e"/>
<text transform="translate(743.18,1243.88) scale(0.8,1)" font-size="23.5" fill="#ff7f0e">LD</text>
<line x1="935.60" y1="1256.22" x2="941.60" y2="1256.22" stroke="#db6d0c" stroke-width="2.0"/>
<ellipse cx="938.60" cy="1256.22" rx="3.60" ry="4.10" fill="#ff7f0e"/>
<text transform="translate(731.99,1261.32) scale(0.8,1)" font-size="23.5" fill="#ff7f0e">LGd</text>
<line x1="903.30" y1="1273.66" x2="913.50" y2="1273.66" stroke="#00006e" stroke-width="2.0"/>
<ellipse cx="907.90" cy="1273.66" rx="3.60" ry="4.10" fill="#000080"/>
<text transform="translate(743.93,1278.76) scale(0.8,1)" font-size="23.5" fill="#000080">PL</text>
<line x1="914.20" y1="1291.10" x2="920.20" y2="1291.10" stroke="#00006e" stroke-width="2.0"/>
<ellipse cx="917.20" cy="1291.10" rx="3.60" ry="4.10" fill="#000080"/>
<text transform="translate(727.29,1296.20) scale(0.8,1)" font-size="23.5" fill="#000080">MOs</text>
<line x1="906.50" y1="1308.54" x2="912.50" y2="1308.54" stroke="#00006e" stroke-width="2.0"/>
<ellipse cx="909.50" cy="1308.54" rx="3.60" ry="4.10" fill="#000080"/>
<text transform="translate(727.67,1313.64) scale(0.8,1)" font-size="23.5" fill="#000080">ACA</text>
<line x1="905.30" y1="1325.98" x2="911.30" y2="1325.98" stroke="#00006e" stroke-width="2.0"/>
<ellipse cx="908.30" cy="1325.98" rx="3.60" ry="4.10" fill="#000080"/>
<text transform="translate(728.61,1331.08) scale(0.8,1)" font-size="23.5" fill="#000080">RSP</text>
<line x1="908.30" y1="1343.42" x2="918.80" y2="1343.42" stroke="#1a669a" stroke-width="2.0"/>
<ellipse cx="913.20" cy="1343.42" rx="3.60" ry="4.10" fill="#1f77b4"/>
<text transform="translate(728.89,1348.52) scale(0.8,1)" font-size="23.5" fill="#1f77b4">VISli</text>
<line x1="912.60" y1="1360.86" x2="924.40" y2="1360.86" stroke="#1a669a" stroke-width="2.0"/>
<ellipse cx="918.50" cy="1360.86" rx="3.60" ry="4.10" fill="#1f77b4"/>
<text transform="translate(694.20,1365.96) scale(0.8,1)" font-size="23.5" fill="#1f77b4">VISmma</text>
<line x1="921.00" y1="1378.30" x2="927.00" y2="1378.30" stroke="#1a669a" stroke-width="2.0"/>
<ellipse cx="924.00" cy="1378.30" rx="3.60" ry="4.10" fill="#1f77b4"/>
<text transform="translate(722.59,1383.40) scale(0.8,1)" font-size="23.5" fill="#1f77b4">VISal</text>
<line x1="915.10" y1="1395.74" x2="926.80" y2="1395.74" stroke="#1a669a" stroke-width="2.0"/>
<ellipse cx="920.90" cy="1395.74" rx="3.60" ry="4.10" fill="#1f77b4"/>
<text transform="translate(736.88,1400.84) scale(0.8,1)" font-size="23.5" fill="#1f77b4">VIS</text>
<line x1="912.40" y1="1413.18" x2="918.40" y2="1413.18" stroke="#1a669a" stroke-width="2.0"/>
<ellipse cx="915.40" cy="1413.18" rx="3.60" ry="4.10" fill="#1f77b4"/>
<text transform="translate(711.03,1418.28) scale(0.8,1)" font-size="23.5" fill="#1f77b4">VISpm</text>
<line x1="906.40" y1="1430.62" x2="916.00" y2="1430.62" stroke="#1a669a" stroke-width="2.0"/>
<ellipse cx="910.70" cy="1430.62" rx="3.60" ry="4.10" fill="#1f77b4"/>
<text transform="translate(725.60,1435.72) scale(0.8,1)" font-size="23.5" fill="#1f77b4">VISa</text>
<line x1="909.60" y1="1448.06" x2="915.60" y2="1448.06" stroke="#1a669a" stroke-width="2.0"/>
<ellipse cx="912.60" cy="1448.06" rx="3.60" ry="4.10" fill="#1f77b4"/>
<text transform="translate(711.03,1453.16) scale(0.8,1)" font-size="23.5" fill="#1f77b4">VISam</text>
<line x1="913.30" y1="1465.50" x2="919.30" y2="1465.50" stroke="#1a669a" stroke-width="2.0"/>
<ellipse cx="916.30" cy="1465.50" rx="3.60" ry="4.10" fill="#1f77b4"/>
<text transform="translate(726.82,1470.60) scale(0.8,1)" font-size="23.5" fill="#1f77b4">VISrl</text>
<line x1="913.50" y1="1482.94" x2="921.90" y2="1482.94" stroke="#1a669a" stroke-width="2.0"/>
<ellipse cx="917.50" cy="1482.94" rx="3.60" ry="4.10" fill="#1f77b4"/>
<text transform="translate(733.12,1488.04) scale(0.8,1)" font-size="23.5" fill="#1f77b4">VISl</text>
<line x1="924.40" y1="1500.38" x2="930.40" y2="1500.38" stroke="#1a669a" stroke-width="2.0"/>
<ellipse cx="927.40" cy="1500.38" rx="3.60" ry="4.10" fill="#1f77b4"/>
<text transform="translate(726.35,1505.48) scale(0.8,1)" font-size="23.5" fill="#1f77b4">VISp</text>
<text transform="translate(14.01,476.50) scale(0.85,1)" font-size="45" fill="#000" font-weight="700">b</text>
<line x1="183.40" y1="1620.30" x2="183.40" y2="1863.20" stroke="#999" stroke-width="1.1" stroke-dasharray="3.5 2.2"/>
<line x1="104.40" y1="1619.80" x2="104.40" y2="1863.95" stroke="#000" stroke-width="1.5"/>
<line x1="103.65" y1="1863.20" x2="341.90" y2="1863.20" stroke="#000" stroke-width="1.5"/>
<line x1="100.20" y1="1620.30" x2="104.40" y2="1620.30" stroke="#000" stroke-width="1.3"/>
<text transform="translate(70.46,1628.20) scale(0.86,1)" font-size="22" fill="#000">1.0</text>
<line x1="100.20" y1="1681.03" x2="104.40" y2="1681.03" stroke="#000" stroke-width="1.3"/>
<text transform="translate(70.56,1688.93) scale(0.86,1)" font-size="22" fill="#000">0.5</text>
<line x1="100.20" y1="1741.75" x2="104.40" y2="1741.75" stroke="#000" stroke-width="1.3"/>
<text transform="translate(70.46,1749.65) scale(0.86,1)" font-size="22" fill="#000">0.0</text>
<line x1="100.20" y1="1802.47" x2="104.40" y2="1802.47" stroke="#000" stroke-width="1.3"/>
<text transform="translate(59.49,1810.38) scale(0.86,1)" font-size="22" fill="#000">−0.5</text>
<line x1="100.20" y1="1863.20" x2="104.40" y2="1863.20" stroke="#000" stroke-width="1.3"/>
<text transform="translate(59.40,1871.10) scale(0.86,1)" font-size="22" fill="#000">−1.0</text>
<line x1="104.40" y1="1863.20" x2="104.40" y2="1867.40" stroke="#000" stroke-width="1.3"/>
<text transform="translate(80.37,1888.30) scale(0.86,1)" font-size="22" fill="#000">−0.05</text>
<line x1="183.40" y1="1863.20" x2="183.40" y2="1867.40" stroke="#000" stroke-width="1.3"/>
<text transform="translate(164.95,1888.30) scale(0.86,1)" font-size="22" fill="#000">0.00</text>
<line x1="262.40" y1="1863.20" x2="262.40" y2="1867.40" stroke="#000" stroke-width="1.3"/>
<text transform="translate(244.00,1888.30) scale(0.86,1)" font-size="22" fill="#000">0.05</text>
<line x1="341.40" y1="1863.20" x2="341.40" y2="1867.40" stroke="#000" stroke-width="1.3"/>
<text transform="translate(322.95,1888.30) scale(0.86,1)" font-size="22" fill="#000">0.10</text>
<text transform="translate(189.97,1912.50) scale(0.84,1)" font-size="22" fill="#000">Time (s)</text>
<line x1="104.40" y1="1813.50" x2="341.90" y2="1682.30" stroke="#000" stroke-width="2.0"/>
<text transform="translate(194.91,1855.70) scale(0.82,1)" font-size="21" fill="#ff7f0e">VPL</text>
<text transform="translate(265.12,1817.50) scale(0.82,1)" font-size="21" fill="#ff7f0e">LGd</text>
<text transform="translate(207.31,1812.80) scale(0.82,1)" font-size="21" fill="#1f77b4">VISp</text>
<text transform="translate(172.52,1797.50) scale(0.82,1)" font-size="21" fill="#ff7f0e">MG</text>
<text transform="translate(282.72,1771.30) scale(0.82,1)" font-size="21" fill="#ff7f0e">MD</text>
<text transform="translate(277.12,1749.00) scale(0.82,1)" font-size="21" fill="#ff7f0e">LD</text>
<text transform="translate(213.41,1750.70) scale(0.82,1)" font-size="21" fill="#1f77b4">VISl</text>
<text transform="translate(209.11,1768.50) scale(0.82,1)" font-size="21" fill="#1f77b4">VISrl</text>
<text transform="translate(163.51,1755.80) scale(0.82,1)" font-size="21" fill="#1f77b4">VISli</text>
<text transform="translate(249.22,1759.20) scale(0.82,1)" font-size="21" fill="#ff7f0e">PO</text>
<text transform="translate(154.31,1733.00) scale(0.82,1)" font-size="21" fill="#1f77b4">VISal</text>
<text transform="translate(221.01,1733.90) scale(0.82,1)" font-size="21" fill="#1f77b4">VISpm</text>
<text transform="translate(233.22,1719.00) scale(0.82,1)" font-size="21" fill="#ff7f0e">LP</text>
<text transform="translate(194.32,1708.50) scale(0.82,1)" font-size="21" fill="#000080">PL</text>
<text transform="translate(266.51,1718.70) scale(0.82,1)" font-size="21" fill="#1f77b4">VISa</text>
<text transform="translate(227.71,1706.00) scale(0.82,1)" font-size="21" fill="#1f77b4">VISam</text>
<text transform="translate(212.92,1693.30) scale(0.82,1)" font-size="21" fill="#000080">MOs</text>
<text transform="translate(251.40,1689.10) scale(0.82,1)" font-size="21" fill="#000080">ACA</text>
<text transform="translate(262.62,1656.40) scale(0.82,1)" font-size="21" fill="#ff7f0e">POL</text>
<ellipse cx="187.00" cy="1853.00" rx="4.10" ry="4.90" fill="#ff7f0e"/>
<ellipse cx="260.20" cy="1818.60" rx="4.10" ry="4.90" fill="#ff7f0e"/>
<ellipse cx="207.40" cy="1792.90" rx="4.10" ry="4.90" fill="#1f77b4"/>
<ellipse cx="204.60" cy="1790.50" rx="4.10" ry="4.90" fill="#ff7f0e"/>
<ellipse cx="275.40" cy="1767.00" rx="4.10" ry="4.90" fill="#ff7f0e"/>
<ellipse cx="273.30" cy="1747.00" rx="4.10" ry="4.90" fill="#ff7f0e"/>
<ellipse cx="210.10" cy="1752.00" rx="4.10" ry="4.90" fill="#1f77b4"/>
<ellipse cx="212.60" cy="1747.80" rx="4.10" ry="4.90" fill="#1f77b4"/>
<ellipse cx="202.50" cy="1746.80" rx="4.10" ry="4.90" fill="#1f77b4"/>
<ellipse cx="248.10" cy="1742.30" rx="4.10" ry="4.90" fill="#ff7f0e"/>
<ellipse cx="194.40" cy="1738.60" rx="4.10" ry="4.90" fill="#1f77b4"/>
<ellipse cx="216.30" cy="1727.70" rx="4.10" ry="4.90" fill="#1f77b4"/>
<ellipse cx="228.80" cy="1719.80" rx="4.10" ry="4.90" fill="#ff7f0e"/>
<ellipse cx="213.50" cy="1715.40" rx="4.10" ry="4.90" fill="#000080"/>
<ellipse cx="261.90" cy="1708.00" rx="4.10" ry="4.90" fill="#1f77b4"/>
<ellipse cx="228.30" cy="1708.00" rx="4.10" ry="4.90" fill="#1f77b4"/>
<ellipse cx="231.20" cy="1703.30" rx="4.10" ry="4.90" fill="#000080"/>
<ellipse cx="252.20" cy="1697.30" rx="4.10" ry="4.90" fill="#000080"/>
<ellipse cx="259.00" cy="1661.30" rx="4.10" ry="4.90" fill="#ff7f0e"/>
<text transform="translate(106.36,1649.10) scale(0.86,1)" font-size="24" fill="#000">r=0.33</text>
<text transform="translate(108.28,1673.30) scale(0.86,1)" font-size="24" fill="#000"><tspan font-style="italic">P</tspan>=0.163</text>
<line x1="514.60" y1="1620.30" x2="514.60" y2="1863.20" stroke="#999" stroke-width="1.1" stroke-dasharray="3.5 2.2"/>
<line x1="435.60" y1="1619.80" x2="435.60" y2="1863.95" stroke="#000" stroke-width="1.5"/>
<line x1="434.85" y1="1863.20" x2="673.10" y2="1863.20" stroke="#000" stroke-width="1.5"/>
<line x1="431.40" y1="1620.30" x2="435.60" y2="1620.30" stroke="#000" stroke-width="1.3"/>
<text transform="translate(401.66,1628.20) scale(0.86,1)" font-size="22" fill="#000">1.0</text>
<line x1="431.40" y1="1681.03" x2="435.60" y2="1681.03" stroke="#000" stroke-width="1.3"/>
<text transform="translate(401.76,1688.93) scale(0.86,1)" font-size="22" fill="#000">0.5</text>
<line x1="431.40" y1="1741.75" x2="435.60" y2="1741.75" stroke="#000" stroke-width="1.3"/>
<text transform="translate(401.66,1749.65) scale(0.86,1)" font-size="22" fill="#000">0.0</text>
<line x1="431.40" y1="1802.47" x2="435.60" y2="1802.47" stroke="#000" stroke-width="1.3"/>
<text transform="translate(390.69,1810.38) scale(0.86,1)" font-size="22" fill="#000">−0.5</text>
<line x1="431.40" y1="1863.20" x2="435.60" y2="1863.20" stroke="#000" stroke-width="1.3"/>
<text transform="translate(390.60,1871.10) scale(0.86,1)" font-size="22" fill="#000">−1.0</text>
<line x1="435.60" y1="1863.20" x2="435.60" y2="1867.40" stroke="#000" stroke-width="1.3"/>
<text transform="translate(411.57,1888.30) scale(0.86,1)" font-size="22" fill="#000">−0.05</text>
<line x1="514.60" y1="1863.20" x2="514.60" y2="1867.40" stroke="#000" stroke-width="1.3"/>
<text transform="translate(496.15,1888.30) scale(0.86,1)" font-size="22" fill="#000">0.00</text>
<line x1="593.60" y1="1863.20" x2="593.60" y2="1867.40" stroke="#000" stroke-width="1.3"/>
<text transform="translate(575.20,1888.30) scale(0.86,1)" font-size="22" fill="#000">0.05</text>
<line x1="672.60" y1="1863.20" x2="672.60" y2="1867.40" stroke="#000" stroke-width="1.3"/>
<text transform="translate(654.15,1888.30) scale(0.86,1)" font-size="22" fill="#000">0.10</text>
<text transform="translate(521.17,1912.50) scale(0.84,1)" font-size="22" fill="#000">Time (s)</text>
<line x1="435.60" y1="1775.00" x2="673.10" y2="1697.50" stroke="#000" stroke-width="2.0"/>
<text transform="translate(465.51,1858.00) scale(0.82,1)" font-size="21" fill="#ff7f0e">VPL</text>
<text transform="translate(536.52,1826.80) scale(0.82,1)" font-size="21" fill="#ff7f0e">LGd</text>
<text transform="translate(547.61,1797.50) scale(0.82,1)" font-size="21" fill="#1f77b4">VISp</text>
<text transform="translate(486.12,1798.70) scale(0.82,1)" font-size="21" fill="#ff7f0e">MG</text>
<text transform="translate(545.92,1765.70) scale(0.82,1)" font-size="21" fill="#ff7f0e">MD</text>
<text transform="translate(439.92,1742.30) scale(0.82,1)" font-size="21" fill="#ff7f0e">LD</text>
<text transform="translate(582.81,1760.10) scale(0.82,1)" font-size="21" fill="#1f77b4">VISl</text>
<text transform="translate(514.31,1756.30) scale(0.82,1)" font-size="21" fill="#1f77b4">VISrl</text>
<text transform="translate(561.21,1746.00) scale(0.82,1)" font-size="21" fill="#1f77b4">VISli</text>
<text transform="translate(490.52,1760.10) scale(0.82,1)" font-size="21" fill="#ff7f0e">PO</text>
<text transform="translate(472.11,1738.50) scale(0.82,1)" font-size="21" fill="#1f77b4">VISal</text>
<text transform="translate(557.11,1727.20) scale(0.82,1)" font-size="21" fill="#1f77b4">VISpm</text>
<text transform="translate(515.82,1733.20) scale(0.82,1)" font-size="21" fill="#ff7f0e">LP</text>
<text transform="translate(543.02,1715.00) scale(0.82,1)" font-size="21" fill="#000080">PL</text>
<text transform="translate(456.21,1711.30) scale(0.82,1)" font-size="21" fill="#1f77b4">VISa</text>
<text transform="translate(522.81,1707.90) scale(0.82,1)" font-size="21" fill="#1f77b4">VISam</text>
<text transform="translate(489.02,1694.40) scale(0.82,1)" font-size="21" fill="#000080">MOs</text>
<text transform="translate(542.60,1691.60) scale(0.82,1)" font-size="21" fill="#000080">ACA</text>
<text transform="translate(570.62,1655.40) scale(0.82,1)" font-size="21" fill="#ff7f0e">POL</text>
<ellipse cx="501.10" cy="1853.00" rx="4.10" ry="4.90" fill="#ff7f0e"/>
<ellipse cx="532.50" cy="1818.60" rx="4.10" ry="4.90" fill="#ff7f0e"/>
<ellipse cx="540.20" cy="1792.90" rx="4.10" ry="4.90" fill="#1f77b4"/>
<ellipse cx="519.80" cy="1790.50" rx="4.10" ry="4.90" fill="#ff7f0e"/>
<ellipse cx="544.80" cy="1767.00" rx="4.10" ry="4.90" fill="#ff7f0e"/>
<ellipse cx="463.40" cy="1747.00" rx="4.10" ry="4.90" fill="#ff7f0e"/>
<ellipse cx="576.70" cy="1752.00" rx="4.10" ry="4.90" fill="#1f77b4"/>
<ellipse cx="551.00" cy="1747.80" rx="4.10" ry="4.90" fill="#1f77b4"/>
<ellipse cx="558.50" cy="1746.80" rx="4.10" ry="4.90" fill="#1f77b4"/>
<ellipse cx="519.10" cy="1742.30" rx="4.10" ry="4.90" fill="#ff7f0e"/>
<ellipse cx="515.90" cy="1738.60" rx="4.10" ry="4.90" fill="#1f77b4"/>
<ellipse cx="555.30" cy="1727.70" rx="4.10" ry="4.90" fill="#1f77b4"/>
<ellipse cx="536.90" cy="1719.80" rx="4.10" ry="4.90" fill="#ff7f0e"/>
<ellipse cx="542.60" cy="1715.40" rx="4.10" ry="4.90" fill="#000080"/>
<ellipse cx="496.00" cy="1708.00" rx="4.10" ry="4.90" fill="#1f77b4"/>
<ellipse cx="520.10" cy="1708.00" rx="4.10" ry="4.90" fill="#1f77b4"/>
<ellipse cx="508.20" cy="1703.30" rx="4.10" ry="4.90" fill="#000080"/>
<ellipse cx="543.50" cy="1697.30" rx="4.10" ry="4.90" fill="#000080"/>
<ellipse cx="569.80" cy="1661.30" rx="4.10" ry="4.90" fill="#ff7f0e"/>
<text transform="translate(592.16,1790.00) scale(0.86,1)" font-size="24" fill="#000">r=0.2</text>
<text transform="translate(594.28,1813.90) scale(0.86,1)" font-size="24" fill="#000"><tspan font-style="italic">P</tspan>=0.416</text>
<line x1="845.10" y1="1620.30" x2="845.10" y2="1863.20" stroke="#999" stroke-width="1.1" stroke-dasharray="3.5 2.2"/>
<line x1="766.00" y1="1619.80" x2="766.00" y2="1863.95" stroke="#000" stroke-width="1.5"/>
<line x1="765.25" y1="1863.20" x2="1003.50" y2="1863.20" stroke="#000" stroke-width="1.5"/>
<line x1="761.80" y1="1620.30" x2="766.00" y2="1620.30" stroke="#000" stroke-width="1.3"/>
<text transform="translate(732.06,1628.20) scale(0.86,1)" font-size="22" fill="#000">1.0</text>
<line x1="761.80" y1="1681.03" x2="766.00" y2="1681.03" stroke="#000" stroke-width="1.3"/>
<text transform="translate(732.16,1688.93) scale(0.86,1)" font-size="22" fill="#000">0.5</text>
<line x1="761.80" y1="1741.75" x2="766.00" y2="1741.75" stroke="#000" stroke-width="1.3"/>
<text transform="translate(732.06,1749.65) scale(0.86,1)" font-size="22" fill="#000">0.0</text>
<line x1="761.80" y1="1802.47" x2="766.00" y2="1802.47" stroke="#000" stroke-width="1.3"/>
<text transform="translate(721.09,1810.38) scale(0.86,1)" font-size="22" fill="#000">−0.5</text>
<line x1="761.80" y1="1863.20" x2="766.00" y2="1863.20" stroke="#000" stroke-width="1.3"/>
<text transform="translate(721.00,1871.10) scale(0.86,1)" font-size="22" fill="#000">−1.0</text>
<line x1="766.00" y1="1863.20" x2="766.00" y2="1867.40" stroke="#000" stroke-width="1.3"/>
<text transform="translate(741.97,1888.30) scale(0.86,1)" font-size="22" fill="#000">−0.05</text>
<line x1="845.00" y1="1863.20" x2="845.00" y2="1867.40" stroke="#000" stroke-width="1.3"/>
<text transform="translate(826.55,1888.30) scale(0.86,1)" font-size="22" fill="#000">0.00</text>
<line x1="924.00" y1="1863.20" x2="924.00" y2="1867.40" stroke="#000" stroke-width="1.3"/>
<text transform="translate(905.60,1888.30) scale(0.86,1)" font-size="22" fill="#000">0.05</text>
<line x1="1003.00" y1="1863.20" x2="1003.00" y2="1867.40" stroke="#000" stroke-width="1.3"/>
<text transform="translate(984.55,1888.30) scale(0.86,1)" font-size="22" fill="#000">0.10</text>
<text transform="translate(851.57,1912.50) scale(0.84,1)" font-size="22" fill="#000">Time (s)</text>
<line x1="766.00" y1="1667.50" x2="1003.50" y2="1823.80" stroke="#000" stroke-width="2.0"/>
<text transform="translate(923.61,1852.60) scale(0.82,1)" font-size="21" fill="#ff7f0e">VPL</text>
<text transform="translate(931.02,1819.30) scale(0.82,1)" font-size="21" fill="#ff7f0e">LGd</text>
<text transform="translate(904.11,1794.00) scale(0.82,1)" font-size="21" fill="#1f77b4">VISp</text>
<text transform="translate(808.32,1797.50) scale(0.82,1)" font-size="21" fill="#ff7f0e">MG</text>
<text transform="translate(931.22,1770.40) scale(0.82,1)" font-size="21" fill="#ff7f0e">MD</text>
<text transform="translate(795.72,1752.00) scale(0.82,1)" font-size="21" fill="#ff7f0e">LD</text>
<text transform="translate(882.81,1768.50) scale(0.82,1)" font-size="21" fill="#1f77b4">VISl</text>
<text transform="translate(835.91,1762.90) scale(0.82,1)" font-size="21" fill="#1f77b4">VISrl</text>
<text transform="translate(830.21,1743.20) scale(0.82,1)" font-size="21" fill="#1f77b4">VISli</text>
<text transform="translate(932.12,1746.00) scale(0.82,1)" font-size="21" fill="#ff7f0e">PO</text>
<text transform="translate(895.91,1737.90) scale(0.82,1)" font-size="21" fill="#1f77b4">VISal</text>
<text transform="translate(876.61,1726.30) scale(0.82,1)" font-size="21" fill="#1f77b4">VISpm</text>
<text transform="translate(907.22,1716.90) scale(0.82,1)" font-size="21" fill="#ff7f0e">LP</text>
<text transform="translate(840.82,1725.40) scale(0.82,1)" font-size="21" fill="#000080">PL</text>
<text transform="translate(819.91,1707.90) scale(0.82,1)" font-size="21" fill="#1f77b4">VISa</text>
<text transform="translate(869.61,1707.50) scale(0.82,1)" font-size="21" fill="#1f77b4">VISam</text>
<text transform="translate(870.22,1693.50) scale(0.82,1)" font-size="21" fill="#000080">MOs</text>
<text transform="translate(825.60,1687.80) scale(0.82,1)" font-size="21" fill="#000080">ACA</text>
<text transform="translate(832.72,1661.00) scale(0.82,1)" font-size="21" fill="#ff7f0e">POL</text>
<ellipse cx="921.80" cy="1853.00" rx="4.10" ry="4.90" fill="#ff7f0e"/>
<ellipse cx="927.00" cy="1818.60" rx="4.10" ry="4.90" fill="#ff7f0e"/>
<ellipse cx="902.40" cy="1792.90" rx="4.10" ry="4.90" fill="#1f77b4"/>
<ellipse cx="841.40" cy="1790.50" rx="4.10" ry="4.90" fill="#ff7f0e"/>
<ellipse cx="926.60" cy="1767.00" rx="4.10" ry="4.90" fill="#ff7f0e"/>
<ellipse cx="821.50" cy="1747.00" rx="4.10" ry="4.90" fill="#ff7f0e"/>
<ellipse cx="879.10" cy="1752.00" rx="4.10" ry="4.90" fill="#1f77b4"/>
<ellipse cx="872.50" cy="1747.80" rx="4.10" ry="4.90" fill="#1f77b4"/>
<ellipse cx="866.00" cy="1746.80" rx="4.10" ry="4.90" fill="#1f77b4"/>
<ellipse cx="926.00" cy="1742.30" rx="4.10" ry="4.90" fill="#ff7f0e"/>
<ellipse cx="892.80" cy="1738.60" rx="4.10" ry="4.90" fill="#1f77b4"/>
<ellipse cx="875.40" cy="1727.70" rx="4.10" ry="4.90" fill="#1f77b4"/>
<ellipse cx="905.40" cy="1719.80" rx="4.10" ry="4.90" fill="#ff7f0e"/>
<ellipse cx="860.90" cy="1715.40" rx="4.10" ry="4.90" fill="#000080"/>
<ellipse cx="861.90" cy="1708.00" rx="4.10" ry="4.90" fill="#1f77b4"/>
<ellipse cx="868.40" cy="1708.00" rx="4.10" ry="4.90" fill="#1f77b4"/>
<ellipse cx="879.10" cy="1703.30" rx="4.10" ry="4.90" fill="#000080"/>
<ellipse cx="861.30" cy="1697.30" rx="4.10" ry="4.90" fill="#000080"/>
<ellipse cx="875.00" cy="1661.30" rx="4.10" ry="4.90" fill="#ff7f0e"/>
<text transform="translate(909.96,1646.90) scale(0.86,1)" font-size="24" fill="#000">r=-0.43</text>
<text transform="translate(911.78,1670.40) scale(0.86,1)" font-size="24" fill="#000"><tspan font-style="italic">P</tspan>=0.067</text>
<text transform="translate(51.50,1846.56) scale(0.86,1) rotate(-90)" font-size="22" fill="#000">Anatomical Hierarchy</text>
<text transform="translate(26.29,1596.70) scale(0.84,1)" font-size="45" fill="#000" font-weight="700">c</text>
</svg>
</body></html>
